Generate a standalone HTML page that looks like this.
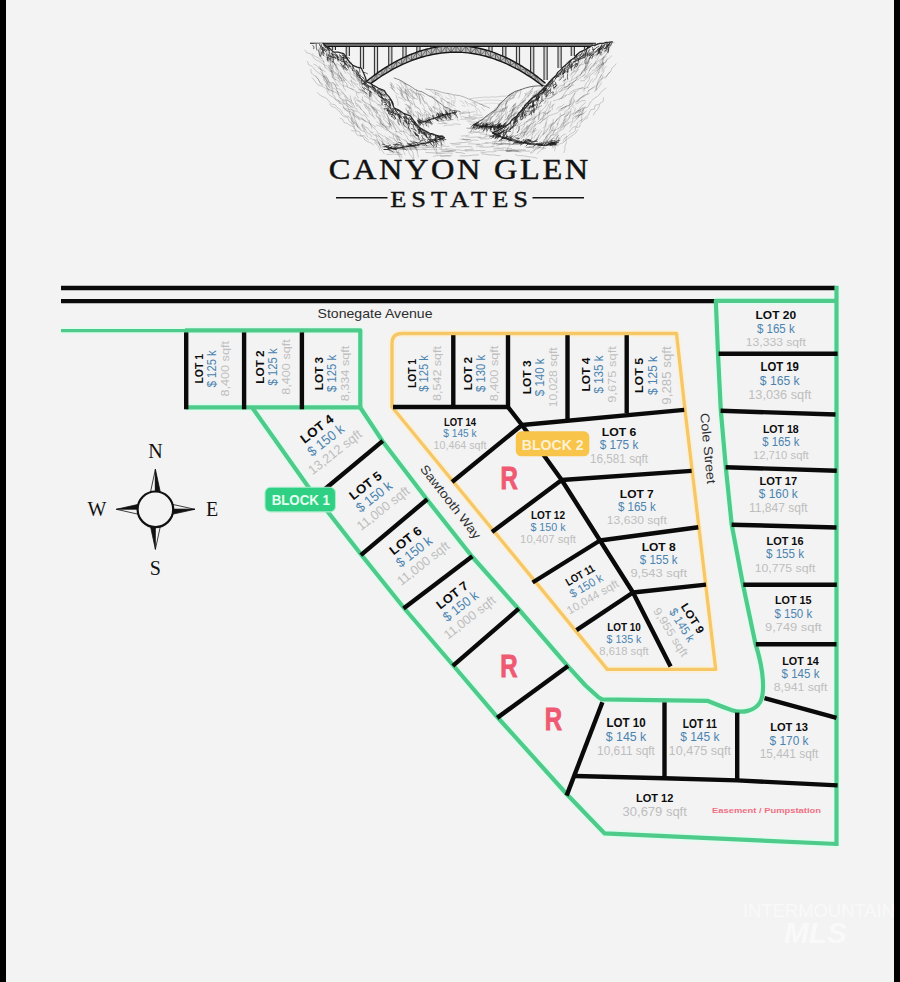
<!DOCTYPE html>
<html lang="en"><head><meta charset="utf-8"><title>Canyon Glen Estates</title>
<style>
html,body{margin:0;padding:0;background:#f3f3f3;}
body{width:900px;height:982px;overflow:hidden;font-family:"Liberation Sans",sans-serif;}
svg{display:block;}
text{font-family:"Liberation Sans",sans-serif;}
.n{font-weight:700;fill:#0c0c0c;text-anchor:middle;}
.p{fill:#4a83b0;text-anchor:middle;}
.s{fill:#bebebe;text-anchor:middle;}
.serif{font-family:"Liberation Serif",serif;fill:#111;}
.road{fill:#2e2e2e;}
</style></head><body>
<svg width="900" height="982" viewBox="0 0 900 982">
<g>
<rect x="-20" y="-20" width="940" height="1022" fill="#f3f3f3"/>
<rect x="-20" y="-20" width="26" height="1022" fill="#000"/>
<rect x="894" y="-20" width="26" height="1022" fill="#000"/>

<g id="logo">
<path d="M469.9,98.8 L473.4,98.2 L476.7,97.9 L479.7,97.5 L482.7,97.3 L485.7,97.0 L489.0,97.3 L491.8,96.8 L495.3,97.1 L498.5,96.6 L502.0,96.2 L505.2,96.2 L508.1,95.6 L511.6,95.6 L515.0,95.0" fill="none" stroke="#1d1d1d" stroke-width="0.5" stroke-opacity="0.35" stroke-linejoin="round" stroke-linecap="round"/>
<path d="M475.8,101.0 L479.6,100.7 L483.0,100.2 L486.2,100.1 L490.1,100.0 L493.4,100.2 L497.0,100.1 L500.7,100.5 L504.0,100.5" fill="none" stroke="#1d1d1d" stroke-width="0.4" stroke-opacity="0.3" stroke-linejoin="round" stroke-linecap="round"/>
<path d="M479.8,104.0 L483.3,104.0 L486.6,103.5 L490.0,103.2 L493.0,103.4 L496.1,103.5 L499.4,103.8 L503.0,104.0" fill="none" stroke="#1d1d1d" stroke-width="0.4" stroke-opacity="0.25" stroke-linejoin="round" stroke-linecap="round"/>
<path d="M474.2,102.4 L474.9,104.6 L475.4,106.8 M454.6,108.4 L456.0,110.9 L455.4,113.7 M450.6,104.0 L453.0,105.2 L455.4,106.3 M441.7,98.2 L441.9,99.8 L441.8,101.6 M478.1,108.7 L479.5,111.1 L481.2,112.9 M435.4,93.3 L436.9,94.7 L438.9,95.7 M449.3,102.2 L449.6,105.4 L450.1,108.6 M475.6,109.1 L476.9,111.3 L476.8,113.9 M429.9,90.6 L431.7,91.4 L433.3,92.6 M435.0,92.0 L436.4,92.9 L438.0,93.5 M441.5,97.6 L442.5,99.0 L444.4,99.8 M432.7,96.7 L435.5,98.9 L437.2,102.4 M459.8,111.4 L460.4,114.6 L461.5,117.7 M439.5,107.8 L440.0,111.4 L440.5,115.0 M440.8,100.5 L441.6,102.0 L442.7,103.1 M454.5,110.5 L455.2,114.4 L455.7,118.2 M437.8,94.2 L440.1,97.2 L441.6,100.7 M467.9,109.9 L469.5,113.0 L469.6,116.5 M447.1,107.5 L446.6,110.0 L447.3,112.5 M436.3,92.6 L440.0,93.9 L442.5,96.9 M447.7,102.4 L449.3,102.8 L450.6,103.5 M481.5,107.8 L483.3,109.1 L484.6,110.8 M442.5,98.6 L445.5,100.9 L448.5,103.1 M459.9,100.7 L462.4,101.7 L464.1,104.0 M437.0,99.9 L437.8,102.7 L438.9,105.4 M443.1,107.1 L444.5,109.6 L446.8,111.6 M464.9,100.7 L466.6,103.5 L468.5,106.1 M442.9,101.9 L443.5,105.4 L443.6,109.1 M430.2,95.2 L432.8,96.9 L436.2,97.5 M471.0,104.9 L474.7,106.0 L477.1,109.1 M451.7,100.3 L451.7,103.9 L452.0,107.5 M447.9,93.2 L449.7,96.1 L452.2,98.3 M465.3,101.3 L468.6,103.6 L472.7,104.3 M434.4,98.8 L435.3,102.3 L434.8,106.0 M462.0,105.5 L463.6,106.0 L465.3,106.3 M448.0,101.7 L447.8,104.0 L448.6,106.0 M432.9,92.7 L434.7,93.7 L436.1,95.3 M444.7,100.0 L446.4,101.7 L448.5,102.8 M472.1,102.4 L475.0,102.9 L476.5,105.5 M453.3,100.5 L453.7,103.0 L453.9,105.5 M447.8,108.1 L449.1,110.9 L450.7,113.6 M434.6,90.7 L435.5,92.7 L435.1,95.1 M481.5,104.3 L482.8,105.9 L484.7,107.0 M454.1,95.3 L455.2,99.1 L454.6,103.2 M445.5,97.4 L447.7,98.5 L450.1,99.1" fill="none" stroke="#1d1d1d" stroke-width="0.45" stroke-opacity="0.33" stroke-linecap="round"/>
<path d="M425.8,89.0 L429.1,89.5 L432.5,89.8 L435.7,90.4 L439.2,91.5 L442.7,92.5 L446.1,93.3 L449.6,93.7 L452.6,94.7 L455.8,95.1 L460.4,95.8 L464.9,97.3 L468.4,98.9 L472.2,100.3 L475.4,101.9 L478.9,103.5 L482.5,104.9 L486.1,106.5 L489.5,108.0" fill="none" stroke="#1d1d1d" stroke-width="0.6" stroke-opacity="0.5" stroke-linejoin="round" stroke-linecap="round"/>
<path d="M390.2,84.3 L392.1,85.8 L393.7,87.6 M439.5,108.6 L440.8,110.2 L442.3,111.6 M432.6,107.0 L435.5,108.5 L438.1,110.6 L440.5,113.0 M419.5,99.4 L421.0,102.5 L423.2,105.1 L424.6,108.2 M409.6,110.5 L412.6,113.6 L415.4,116.8 M443.7,108.8 L445.1,111.6 L446.5,114.5 M426.4,114.4 L427.2,118.1 L426.8,122.1 M405.0,104.5 L409.1,105.8 L411.7,109.2 M429.6,117.7 L431.4,120.1 L433.3,122.5 M400.2,92.7 L401.9,96.1 L404.3,98.8 L407.6,100.5 M419.1,95.4 L419.7,99.8 L420.6,104.0 M391.3,82.7 L393.3,85.4 L394.3,88.4 M418.7,120.6 L419.2,124.1 L420.1,127.5 L421.6,130.7 M412.4,110.9 L413.5,113.8 L413.7,116.9 M401.8,87.1 L401.7,91.3 L402.6,95.2 M407.5,89.7 L409.9,92.6 L411.8,95.7 L413.6,99.0 M418.8,93.7 L422.2,94.2 L424.5,96.4 M406.0,90.0 L408.1,93.0 L410.9,95.3 M419.7,119.5 L422.0,122.6 L423.3,125.9 L424.4,129.4 M431.1,108.4 L431.6,111.6 L432.8,114.7 L433.3,117.9 M399.2,88.9 L400.7,91.7 L401.6,94.9 L403.0,97.7 M412.4,98.6 L413.6,101.5 L414.6,104.4 L415.2,107.4 M429.1,108.2 L430.7,110.8 L433.5,112.4 M422.6,108.7 L425.5,110.6 L428.5,112.4 L430.4,115.5 M413.6,114.8 L416.2,116.1 L417.7,118.8 M407.0,96.3 L408.4,99.9 L410.4,103.3 L411.0,107.3 M399.4,80.8 L402.5,82.7 L405.6,84.4 M420.0,94.1 L421.5,96.3 L423.3,98.3 M418.2,114.3 L418.8,118.1 L420.1,121.6 M417.9,118.3 L421.1,120.1 L424.8,121.0 M416.5,90.0 L416.7,94.6 L418.2,98.8 M427.8,120.5 L428.2,124.0 L428.8,127.5 M454.4,110.9 L455.9,114.0 L456.9,117.2 L457.9,120.5 M407.1,96.7 L408.4,99.6 L410.2,102.2 L412.5,104.5 M408.4,89.0 L411.6,90.9 L414.5,93.2 L416.9,96.2 M428.1,114.2 L428.8,117.9 L430.2,121.5 L431.2,125.1 M409.4,112.6 L409.9,115.0 L411.0,117.3 M405.3,89.1 L407.1,91.6 L408.2,94.5 L409.3,97.5 M403.3,92.0 L406.5,93.6 L409.1,95.8 L411.4,98.4 M433.4,106.7 L435.9,107.8 L438.2,109.1 M413.5,103.6 L415.8,106.5 L419.0,108.5 M433.5,106.6 L434.5,108.7 L434.8,111.1 M400.6,90.3 L402.2,93.8 L403.9,97.2 L405.8,100.5 M404.4,83.6 L405.9,87.3 L405.3,91.5 L407.0,95.1 M422.0,115.5 L422.5,118.2 L423.2,120.9 M408.4,110.3 L408.6,112.5 L410.3,114.3 M437.8,102.4 L439.1,105.4 L440.9,108.1 M408.0,111.8 L408.9,115.6 L410.8,118.9 M398.6,97.2 L402.2,98.7 L404.8,101.6 M418.9,121.0 L422.0,122.8 L424.9,125.0 L428.4,126.3 M417.3,111.4 L419.7,114.3 L423.4,115.7 L426.0,118.4 M410.2,100.2 L411.7,101.7 L412.3,104.1 M436.0,117.4 L439.5,119.4 L442.4,122.2 L446.1,123.7 M417.6,112.3 L420.1,113.7 L420.8,116.6 M408.8,106.5 L410.1,110.7 L411.3,114.9 M390.8,84.7 L392.1,88.2 L394.9,90.9 M407.0,106.9 L408.9,107.5 L410.4,108.9 M406.4,104.1 L408.1,106.4 L409.9,108.5 M400.0,82.5 L402.2,85.4 L404.1,88.6 L406.2,91.6 M416.7,107.0 L419.7,109.5 L421.2,113.2 L424.7,115.4 M399.6,87.0 L401.3,90.6 L404.2,93.6 M413.4,91.7 L416.6,93.6 L420.4,94.6 L422.8,97.7 M415.5,111.5 L417.7,114.5 L418.8,117.9 L420.4,121.1 M409.4,106.7 L411.3,109.2 L411.5,112.1 M407.8,111.0 L407.7,114.5 L409.2,117.5 L410.1,120.8 M444.9,107.7 L445.8,111.5 L446.3,115.3 M424.6,110.0 L425.8,113.1 L428.2,115.4 M390.8,82.6 L391.7,85.9 L392.5,89.2 M445.9,110.6 L449.2,113.6 L452.9,115.9 M405.3,92.0 L406.6,93.6 L407.3,95.7 M418.0,92.4 L419.1,96.3 L420.8,100.0 M421.9,97.5 L423.4,100.6 L425.1,103.6 M428.9,113.3 L431.5,116.4 L435.2,118.1 M405.6,109.3 L407.8,110.7 L408.2,113.4 M445.9,112.9 L447.6,115.9 L448.5,119.3 M390.1,87.2 L393.0,89.6 L395.2,92.7 L398.6,94.5 M426.0,101.7 L427.7,104.7 L429.0,107.8 L430.5,110.8 M424.4,112.4 L425.1,114.9 L427.3,116.5 M404.4,91.2 L405.9,94.4 L407.2,97.8 L408.6,101.1 M396.1,95.2 L397.1,98.5 L398.1,101.8 L398.0,105.3 M397.0,87.1 L397.9,89.1 L399.4,90.6 M429.4,106.2 L431.2,108.1 L432.3,110.5 M435.3,111.6 L436.9,114.0 L438.9,116.1 M444.2,106.7 L446.8,108.7 L448.4,111.6 M422.9,98.4 L424.3,101.8 L427.1,104.4 M441.7,113.1 L445.4,115.1 L447.4,118.7 M432.4,110.2 L434.5,112.4 L436.4,114.9 L437.4,117.8 M405.9,108.1 L407.0,111.5 L410.0,113.4 L412.5,115.7 M410.8,95.7 L413.8,97.9 L417.2,99.2 M409.9,88.0 L411.9,91.4 L412.5,95.3 L414.6,98.6 M405.4,83.8 L406.9,87.0 L408.0,90.3 L409.7,93.4 M441.3,114.3 L442.1,118.1 L444.0,121.6 M411.4,88.8 L413.9,91.8 L416.7,94.6 M417.5,119.5 L418.1,121.6 L418.9,123.7 M396.6,84.2 L399.3,86.2 L401.1,89.3 L403.8,91.4" fill="none" stroke="#1d1d1d" stroke-width="0.5" stroke-opacity="0.38" stroke-linecap="round"/>
<path d="M437.9,112.9 L439.4,115.2 L439.2,117.9 M442.2,113.3 L443.1,114.6 L443.9,116.0 M442.4,114.0 L443.0,116.7 L445.0,118.2 M454.3,112.6 L456.1,114.9 L457.4,117.4 M437.5,116.1 L437.7,118.8 L438.7,121.1 M440.3,114.1 L441.1,115.0 L440.7,116.2 M433.7,115.2 L434.0,117.6 L435.4,119.4 M438.8,116.0 L439.9,118.2 L441.5,120.1 M429.2,119.0 L430.6,121.6 L431.8,124.4 M417.3,120.1 L417.8,121.2 L418.2,122.3 M435.4,117.3 L435.9,119.2 L437.7,120.3 M445.7,114.4 L445.9,116.2 L446.0,118.1 M419.7,120.6 L419.6,122.6 L420.5,124.5 M440.1,114.5 L440.7,117.3 L441.8,120.0 M425.1,120.8 L426.0,122.6 L428.2,122.9 M443.3,114.7 L444.3,116.0 L445.7,116.8 M429.3,117.2 L430.5,117.9 L431.8,118.4 M428.6,117.7 L429.1,118.6 L429.3,119.8 M437.4,117.0 L439.6,118.3 L441.9,119.5 M446.4,112.4 L448.6,113.9 L450.4,115.7 M447.0,113.7 L447.9,116.5 L450.6,118.2 M429.0,119.5 L430.5,121.8 L432.5,123.7 M437.2,113.0 L438.0,114.4 L440.1,114.2 M437.8,114.6 L439.3,115.9 L440.2,118.0 M442.3,114.1 L443.7,114.7 L443.9,115.8 M433.3,116.7 L435.3,118.8 L437.7,120.6 M420.0,120.7 L420.0,122.3 L420.2,123.9 M420.0,120.8 L421.5,123.3 L423.7,125.1 M420.3,120.1 L422.0,121.1 L423.3,122.4 M438.5,114.2 L438.8,115.9 L439.4,117.3 M449.5,113.3 L449.1,115.9 L449.4,118.3 M422.2,118.6 L422.3,119.8 L421.5,121.1 M445.8,110.7 L446.0,112.5 L447.6,113.2 M443.4,114.7 L444.5,116.3 L445.7,117.8 M426.6,120.0 L427.9,120.7 L428.7,122.0 M432.5,115.5 L433.1,117.5 L433.2,119.6 M437.3,113.5 L436.2,115.1 L436.9,116.4 M423.2,121.0 L425.7,122.8 L426.7,125.7 M418.4,120.9 L418.9,123.1 L419.1,125.4 M438.5,115.5 L438.4,117.1 L438.7,118.5 M425.1,119.2 L425.3,120.5 L426.4,121.3 M426.9,120.8 L428.1,122.3 L430.1,123.2 M453.2,112.5 L454.5,113.6 L455.4,115.1 M426.9,118.1 L429.2,119.8 L430.3,122.4 M449.8,113.7 L450.6,116.6 L450.7,119.6 M449.6,110.1 L452.4,111.3 L453.0,114.2 M418.6,119.0 L418.5,120.8 L418.8,122.7 M418.0,121.3 L420.2,122.1 L421.6,123.7 M417.8,120.4 L419.5,122.5 L420.4,125.1 M447.2,113.7 L447.7,114.7 L448.9,115.2 M454.0,110.8 L454.6,112.2 L455.3,113.7 M439.4,112.8 L441.2,113.9 L441.8,115.6 M422.4,120.7 L423.1,121.8 L424.2,122.7 M425.0,121.2 L426.3,122.0 L425.5,123.7 M444.7,114.1 L445.9,116.7 L446.5,119.6 M445.5,113.0 L446.6,113.4 L446.8,114.8 M440.2,115.8 L441.3,116.9 L443.1,117.4 M442.2,114.9 L442.8,116.3 L442.6,118.0 M442.0,113.6 L444.0,115.5 L445.7,117.7 M445.7,111.0 L447.3,112.4 L447.5,114.9 M449.9,109.7 L449.8,112.6 L451.0,115.1 M447.4,113.8 L448.1,116.4 L449.7,118.5 M448.2,114.1 L449.7,115.7 L451.6,116.9 M441.5,113.8 L442.5,114.8 L443.3,116.1 M428.8,119.7 L428.7,121.6 L430.4,123.0 M452.2,112.4 L453.7,113.1 L454.5,114.6 M419.0,119.3 L421.0,120.6 L422.1,122.4 M440.7,111.0 L441.7,112.3 L442.1,113.9 M426.1,118.7 L427.7,120.4 L426.9,122.6 M436.4,117.4 L437.1,118.9 L437.2,120.8" fill="none" stroke="#1d1d1d" stroke-width="0.7" stroke-opacity="0.75" stroke-linecap="round"/>
<path d="M394.1,78.0 L399.6,79.9 L403.0,81.9 L406.8,84.3 L409.7,85.8 L412.2,87.4 L414.8,89.3 L418.4,91.0 L422.0,91.8 L425.1,93.6 L428.8,95.8 L431.9,97.2 L434.5,99.2 L437.0,101.0 L439.1,102.5 L442.1,104.7 L444.3,106.7 L448.5,108.2 L451.9,110.3 L456.2,110.7 L460.0,111.5" fill="none" stroke="#1d1d1d" stroke-width="0.7" stroke-opacity="0.7" stroke-linejoin="round" stroke-linecap="round"/>
<path d="M456.6,111.9 L453.5,112.8 L450.7,113.3 L447.5,114.1 L444.2,114.8 L441.5,115.8 L438.4,116.8 L435.3,118.0 L432.1,118.9 L428.9,119.9 L426.1,121.3 L420.0,122.5" fill="none" stroke="#1d1d1d" stroke-width="1.1" stroke-opacity="0.85" stroke-linejoin="round" stroke-linecap="round"/>
<path d="M512.8,112.4 L510.9,115.4 L511.4,119.0 M506.2,122.0 L503.6,124.0 L500.6,125.3 L498.3,127.8 M525.8,100.0 L522.2,102.4 L519.3,105.7 M545.0,86.3 L543.3,87.6 L541.2,88.2 M520.1,104.6 L517.4,106.2 L514.9,108.0 L512.3,109.8 M498.8,115.8 L497.7,118.5 L495.2,119.8 M493.3,122.1 L490.5,123.6 L487.8,125.2 M492.5,125.4 L490.6,126.3 L488.9,127.3 M505.3,123.1 L505.1,126.7 L503.0,129.9 L503.3,133.6 M515.2,104.2 L513.5,107.9 L512.2,111.8 M513.9,105.3 L513.1,107.7 L512.6,110.4 M510.0,113.5 L508.1,116.0 L508.3,119.2 L506.4,121.7 M511.9,93.0 L509.8,94.1 L508.5,96.4 M489.9,117.7 L487.5,120.7 L484.5,123.2 L483.1,126.9 M541.6,90.5 L538.8,92.5 L536.3,95.0 L532.7,95.6 M525.8,98.8 L523.8,102.0 L520.2,103.4 M501.9,119.3 L499.5,121.9 L498.1,125.2 L495.5,127.6 M479.2,120.8 L476.5,123.3 L473.7,125.8 M474.7,123.8 L473.0,127.9 L470.8,131.7 M516.6,91.8 L514.0,94.7 L512.4,98.3 L509.0,100.7 M481.9,125.9 L478.6,126.8 L476.0,128.8 L473.2,130.6 M531.9,91.7 L528.8,93.6 L525.4,95.2 M476.2,123.7 L474.0,126.6 L471.7,129.6 L470.1,132.9 M526.2,94.2 L524.0,98.1 L520.9,101.3 M544.1,90.7 L543.2,93.0 L542.4,95.3 M516.8,106.8 L513.1,109.0 L509.6,111.6 M505.2,109.2 L503.5,112.3 L500.9,114.9 M526.1,102.4 L523.8,106.1 L521.6,109.9 M507.3,101.7 L505.9,104.9 L505.7,108.6 L503.7,111.5 M521.8,105.3 L518.9,107.9 L515.2,109.2 L512.0,111.3 M492.2,124.6 L490.2,126.0 L488.0,127.3 M532.1,92.9 L529.5,95.0 L527.6,97.9 M517.5,90.4 L515.4,94.5 L513.4,98.5 M510.8,96.2 L509.4,99.1 L507.2,101.3 M506.1,123.6 L505.1,126.2 L504.0,128.7 M502.6,117.4 L500.0,120.4 L497.7,123.5 M504.6,123.9 L502.8,127.4 L501.6,131.2 L500.2,134.9 M483.8,122.5 L482.1,125.2 L480.9,128.2 L479.4,131.0 M498.0,113.9 L497.0,115.7 L496.1,117.6 M498.6,118.1 L496.2,120.2 L494.1,122.8 L491.6,124.7 M515.8,103.5 L514.8,107.4 L513.7,111.3 L510.8,114.3 M492.7,121.0 L491.0,123.7 L491.0,126.9 L490.5,130.0 M488.2,118.9 L485.7,120.8 L482.9,122.1 L480.3,123.6 M545.3,88.1 L542.6,90.3 L539.7,92.2 M536.9,90.6 L536.0,93.4 L534.9,96.1 M533.7,86.7 L532.2,88.8 L532.0,91.6 M495.0,120.8 L493.1,122.3 L491.6,124.4 M514.3,109.1 L512.1,111.8 L509.4,114.2 L507.6,117.2 M502.9,108.1 L502.0,111.2 L501.1,114.2 L501.1,117.6 M523.4,101.1 L522.7,103.6 L520.9,105.6 M510.8,116.5 L508.1,118.6 L504.8,119.6 M488.0,125.7 L487.3,129.1 L486.6,132.6 L486.1,136.0 M540.0,90.2 L538.8,93.1 L538.1,96.1 L536.8,99.0 M490.6,118.0 L490.3,122.2 L488.5,125.9 M502.2,105.5 L500.7,109.1 L499.6,112.9 L497.3,116.1 M508.8,118.7 L507.3,122.1 L505.3,125.2 L503.1,128.2 M534.7,91.9 L533.8,95.1 L531.4,97.4 L530.3,100.5 M514.4,104.4 L511.5,107.9 L509.6,111.8 M495.9,114.0 L492.5,116.8 L489.6,120.1 M507.2,97.7 L507.1,101.7 L505.3,105.2 M532.9,88.1 L530.8,90.6 L529.7,94.0 L527.2,96.2 M499.7,109.3 L496.7,111.9 L492.9,112.9 L490.0,115.8 M503.9,124.8 L503.0,128.2 L500.9,131.1 M520.8,89.6 L519.1,91.2 L517.2,92.6 M503.1,108.5 L501.5,111.2 L498.7,111.9 M515.6,92.5 L512.1,93.9 L508.7,95.4 M537.3,93.2 L537.1,96.5 L537.1,99.9 L535.9,103.1 M503.4,115.1 L501.9,118.2 L499.5,120.9 L498.2,124.1 M540.2,90.5 L538.0,92.7 L535.1,94.0 L532.5,95.8 M508.1,105.6 L505.0,108.8 L501.4,111.4 M491.6,113.8 L488.6,116.0 L485.2,117.1 M537.0,94.7 L534.7,98.0 L532.6,101.3 L530.3,104.6 M512.0,112.1 L509.9,115.2 L509.5,118.9 L507.8,122.1 M513.3,97.2 L511.6,98.3 L509.4,98.7 M495.3,110.7 L493.6,112.6 L491.5,113.8 M504.1,103.5 L500.7,105.3 L497.3,106.8 L494.2,109.2 M480.9,121.1 L477.0,122.4 L474.2,125.7 M543.5,89.6 L541.2,91.4 L538.3,92.3 M509.9,115.1 L507.7,117.6 L505.2,119.9 L503.1,122.6 M515.8,103.2 L514.0,104.7 L512.6,106.7 M489.1,116.1 L485.0,118.1 L481.4,120.8 M541.8,93.4 L539.8,96.9 L537.7,100.4 M515.7,112.4 L513.8,115.3 L510.3,116.8 L508.2,119.5 M488.8,119.8 L486.6,120.9 L484.8,122.8 M496.9,111.3 L494.9,113.6 L493.0,116.0 L490.8,118.1 M539.3,89.3 L537.3,91.1 L534.5,91.9 M501.2,124.5 L500.1,128.7 L498.1,132.5 M493.6,112.0 L490.8,114.9 L488.5,118.4 M513.1,93.2 L511.7,95.5 L509.9,97.5 M521.2,89.6 L520.3,93.9 L518.6,98.0 M515.2,110.9 L513.8,114.0 L513.1,117.3 L512.5,120.7 M504.2,107.9 L501.1,110.3 L497.6,112.2 L494.3,114.5 M529.0,95.2 L525.9,97.4 L524.0,100.8 M504.2,114.5 L501.4,117.2 L498.8,120.4 L495.3,122.4 M506.1,100.7 L505.8,104.6 L505.3,108.5 M499.5,107.0 L497.4,109.8 L494.5,112.0 M501.1,125.4 L499.1,129.2 L496.7,132.8 M512.7,110.0 L511.5,113.2 L511.3,116.5 L509.6,119.5 M545.3,91.0 L543.5,94.0 L541.7,97.0 L540.5,100.3 M530.9,90.4 L528.1,92.6 L524.8,93.7 M509.1,96.8 L507.7,100.6 L505.4,104.0 M492.9,123.8 L489.5,126.1 L486.3,128.5 M536.8,92.8 L535.7,95.1 L534.8,97.5 M495.9,119.7 L493.2,122.7 L489.6,123.9 L486.1,125.6 M492.5,116.6 L489.9,117.2 L487.7,118.6 M507.1,107.6 L504.2,108.3 L502.8,111.2 M537.8,95.5 L536.9,97.7 L535.5,99.8 M499.5,115.5 L499.4,119.6 L497.8,123.5 M506.4,100.0 L503.8,101.8 L501.2,103.6 L498.3,105.0 M492.4,121.5 L492.0,125.0 L491.0,128.3 L491.0,131.9 M518.0,111.8 L514.7,114.1 L511.0,115.9 M491.5,118.3 L489.7,121.3 L487.9,124.3 M500.4,103.8 L498.2,107.2 L495.1,109.7 L492.7,112.9 M508.4,115.4 L507.2,119.3 L506.1,123.2 M507.6,111.9 L506.3,114.6 L505.4,117.6 M523.3,100.2 L521.3,102.6 L518.9,104.8 L517.3,107.5 M507.1,107.0 L506.1,110.8 L505.2,114.6 M518.6,106.7 L517.2,110.4 L515.0,113.5 L511.8,116.0 M517.0,112.9 L515.2,114.2 L514.2,116.2 M484.8,122.2 L482.8,122.9 L480.8,123.7" fill="none" stroke="#1d1d1d" stroke-width="0.5" stroke-opacity="0.4" stroke-linecap="round"/>
<path d="M494.0,126.5 L492.3,127.1 L490.7,127.6 M495.6,127.1 L493.9,128.5 L494.6,130.2 M478.1,124.3 L477.6,125.6 L476.6,126.0 M494.4,125.3 L493.4,127.2 L493.9,129.5 M499.9,124.7 L499.0,125.4 L498.8,126.8 M487.4,124.4 L486.9,126.6 L486.1,128.7 M500.8,125.9 L499.0,125.5 L498.2,127.1 M486.7,124.1 L485.3,125.6 L484.1,127.3 M474.6,124.4 L473.9,126.4 L474.1,128.5 M492.5,125.2 L491.3,126.5 L490.8,128.0 M487.6,127.2 L485.4,128.9 L483.6,130.9 M477.7,126.0 L475.5,127.2 L472.9,127.7 M478.4,122.5 L476.8,124.0 L475.8,126.0 M487.0,124.1 L485.9,126.8 L484.4,129.4 M499.8,126.3 L498.7,127.4 L497.9,128.7 M487.7,126.6 L486.4,128.2 L486.5,130.1 M478.1,123.7 L477.5,126.9 L475.9,129.3 M501.3,125.2 L500.6,126.5 L500.5,127.9 M478.5,122.4 L476.3,123.4 L474.3,125.0 M499.2,122.1 L497.6,123.6 L495.7,124.9 M483.8,124.2 L482.9,127.0 L482.0,129.8 M482.8,124.9 L483.0,126.3 L481.8,127.5 M485.6,123.1 L483.9,125.6 L481.4,127.3 M481.3,122.8 L480.1,124.2 L478.5,125.3 M480.0,126.2 L479.3,127.6 L478.2,128.8 M506.2,122.7 L505.0,123.2 L504.9,124.5 M498.8,124.1 L497.4,125.0 L495.5,125.1 M499.8,125.0 L499.2,127.0 L498.1,128.8 M501.7,125.4 L500.9,127.2 L498.6,127.6 M503.9,125.3 L501.6,126.7 L501.0,129.3 M484.1,125.3 L481.9,127.2 L479.1,128.4 M492.4,126.1 L490.6,128.3 L490.3,131.0 M495.4,124.6 L494.0,125.2 L493.3,126.2 M476.3,124.2 L475.1,125.7 L473.5,126.6 M482.3,121.9 L480.7,124.1 L479.3,126.4 M500.9,123.9 L499.7,124.9 L498.5,125.9 M490.8,123.3 L489.4,124.4 L487.8,125.2 M504.7,123.7 L504.9,125.6 L504.1,127.2 M500.0,123.6 L499.0,125.6 L497.0,127.2 M493.1,123.6 L493.0,125.6 L491.3,126.6 M500.8,123.1 L499.2,125.6 L500.0,128.6 M489.4,126.4 L488.1,128.8 L486.9,131.3 M487.3,123.2 L485.7,125.4 L484.0,127.5 M493.1,126.3 L491.2,127.8 L490.5,129.7 M480.9,126.2 L479.7,127.8 L477.5,128.1 M480.9,125.2 L481.1,126.7 L479.8,127.2 M504.1,125.1 L503.5,126.4 L503.2,127.7 M491.6,127.0 L490.8,128.2 L491.5,129.8 M475.8,124.4 L472.7,125.0 L470.9,127.5 M497.9,124.7 L497.0,127.4 L496.5,130.3 M486.5,123.4 L486.0,125.0 L484.9,125.7 M505.4,123.2 L503.6,124.5 L504.0,126.8 M499.8,124.9 L497.9,127.0 L497.0,129.4 M479.4,123.7 L477.7,125.4 L475.4,126.0 M483.0,125.9 L482.6,127.0 L483.2,128.7 M497.2,126.3 L496.0,128.5 L493.7,130.1 M486.7,123.0 L486.3,125.1 L486.0,127.2 M493.3,124.8 L491.9,126.4 L489.8,126.8 M489.8,126.3 L488.9,127.6 L488.0,128.8 M477.8,122.2 L475.3,123.9 L472.7,125.5 M485.6,124.6 L484.6,125.4 L484.5,126.6 M483.5,123.5 L482.2,125.7 L481.5,128.2 M487.1,124.9 L487.3,126.2 L485.8,126.7 M499.2,124.7 L498.1,126.9 L498.1,129.3 M481.9,126.1 L480.1,126.4 L479.1,127.5 M490.0,124.6 L490.2,126.9 L489.3,128.9 M499.3,125.2 L498.9,127.1 L498.0,128.8 M499.2,124.0 L498.3,125.8 L497.8,127.7 M499.5,124.0 L498.6,125.1 L497.4,125.7 M485.5,125.2 L485.8,127.3 L484.5,128.2 M495.9,126.5 L495.4,128.8 L494.8,131.2 M501.4,125.3 L499.5,127.2 L497.1,128.5 M493.4,125.2 L491.3,126.1 L490.1,128.4 M483.0,123.7 L483.0,125.3 L481.9,126.2 M495.9,125.4 L494.4,127.5 L494.4,129.9 M504.1,125.5 L502.9,126.0 L503.1,127.3 M484.7,126.0 L484.4,128.7 L483.3,131.3 M503.4,124.9 L502.4,125.5 L501.5,126.0 M494.6,126.1 L494.0,127.5 L494.6,129.2 M488.3,124.0 L486.9,124.7 L486.1,126.1" fill="none" stroke="#1d1d1d" stroke-width="0.75" stroke-opacity="0.75" stroke-linecap="round"/>
<path d="M544.8,85.7 L541.6,85.9 L537.8,85.9 L533.9,86.2 L530.1,86.8 L525.8,87.9 L522.3,89.1 L518.0,90.6 L514.7,91.6 L511.9,93.4 L509.0,95.3 L505.2,98.8 L502.9,101.3 L499.7,103.7 L498.1,106.7 L496.1,109.8 L492.2,111.8 L489.1,114.2 L485.9,116.4 L483.2,118.9 L480.0,120.8 L477.3,122.7 L474.0,124.3" fill="none" stroke="#1d1d1d" stroke-width="0.8" stroke-opacity="0.8" stroke-linejoin="round" stroke-linecap="round"/>
<path d="M474.0,124.5 L477.2,125.4 L479.9,126.3 L483.4,126.4 L486.3,126.6 L492.1,127.0 L495.4,126.8 L498.7,126.9 L504.0,126.0" fill="none" stroke="#1d1d1d" stroke-width="1.2" stroke-opacity="0.9" stroke-linejoin="round" stroke-linecap="round"/>
<g stroke="#2a2a2a" fill="none">
<rect x="332.3" y="46.2" width="3.2" height="3.8" fill="#d0d0d0" stroke="none"/>
<path d="M332.3,46.2 V50.0 M335.5,46.2 V50.0" stroke-width="0.95" stroke="#1a1a1a"/>
<rect x="346.2" y="46.2" width="3.2" height="9.8" fill="#d0d0d0" stroke="none"/>
<path d="M346.2,46.2 V56.0 M349.4,46.2 V56.0" stroke-width="0.95" stroke="#1a1a1a"/>
<rect x="360.4" y="46.2" width="3.2" height="22.8" fill="#d0d0d0" stroke="none"/>
<path d="M360.4,46.2 V69.0 M363.6,46.2 V69.0" stroke-width="0.95" stroke="#1a1a1a"/>
<rect x="374.4" y="46.2" width="3.2" height="29.8" fill="#d0d0d0" stroke="none"/>
<path d="M374.4,46.2 V76.0 M377.6,46.2 V76.0" stroke-width="0.95" stroke="#1a1a1a"/>
<rect x="388.7" y="46.2" width="3.2" height="19.5" fill="#d0d0d0" stroke="none"/>
<path d="M388.7,46.2 V65.7 M391.9,46.2 V65.7" stroke-width="0.95" stroke="#1a1a1a"/>
<rect x="402.9" y="46.2" width="3.2" height="12.0" fill="#d0d0d0" stroke="none"/>
<path d="M402.9,46.2 V58.2 M406.1,46.2 V58.2" stroke-width="0.95" stroke="#1a1a1a"/>
<rect x="416.8" y="46.2" width="3.2" height="6.5" fill="#d0d0d0" stroke="none"/>
<path d="M416.8,46.2 V52.7 M420.0,46.2 V52.7" stroke-width="0.95" stroke="#1a1a1a"/>
<rect x="431.0" y="46.2" width="3.2" height="2.7" fill="#d0d0d0" stroke="none"/>
<path d="M431.0,46.2 V48.9 M434.2,46.2 V48.9" stroke-width="0.95" stroke="#1a1a1a"/>
<rect x="473.6" y="46.2" width="3.2" height="2.3" fill="#d0d0d0" stroke="none"/>
<path d="M473.6,46.2 V48.5 M476.8,46.2 V48.5" stroke-width="0.95" stroke="#1a1a1a"/>
<rect x="488.9" y="46.2" width="3.2" height="6.2" fill="#d0d0d0" stroke="none"/>
<path d="M488.9,46.2 V52.4 M492.1,46.2 V52.4" stroke-width="0.95" stroke="#1a1a1a"/>
<rect x="502.7" y="46.2" width="3.2" height="11.6" fill="#d0d0d0" stroke="none"/>
<path d="M502.7,46.2 V57.8 M505.9,46.2 V57.8" stroke-width="0.95" stroke="#1a1a1a"/>
<rect x="516.4" y="46.2" width="3.2" height="18.7" fill="#d0d0d0" stroke="none"/>
<path d="M516.4,46.2 V64.9 M519.6,46.2 V64.9" stroke-width="0.95" stroke="#1a1a1a"/>
<rect x="530.6" y="46.2" width="3.2" height="27.9" fill="#d0d0d0" stroke="none"/>
<path d="M530.6,46.2 V74.1 M533.8,46.2 V74.1" stroke-width="0.95" stroke="#1a1a1a"/>
<rect x="544.0" y="46.2" width="3.2" height="33.8" fill="#d0d0d0" stroke="none"/>
<path d="M544.0,46.2 V80.0 M547.2,46.2 V80.0" stroke-width="0.95" stroke="#1a1a1a"/>
<rect x="558.0" y="46.2" width="3.2" height="21.8" fill="#d0d0d0" stroke="none"/>
<path d="M558.0,46.2 V68.0 M561.2,46.2 V68.0" stroke-width="0.95" stroke="#1a1a1a"/>
<rect x="571.2" y="46.2" width="3.2" height="9.8" fill="#d0d0d0" stroke="none"/>
<path d="M571.2,46.2 V56.0 M574.4,46.2 V56.0" stroke-width="0.95" stroke="#1a1a1a"/>
<rect x="584.4" y="46.2" width="3.2" height="2.8" fill="#d0d0d0" stroke="none"/>
<path d="M584.4,46.2 V49.0 M587.6,46.2 V49.0" stroke-width="0.95" stroke="#1a1a1a"/>
<path d="M366.7,81.2 L369.7,78.8 L372.7,76.5 L375.6,74.3 L378.6,72.2 L381.6,70.2 L384.6,68.2 L387.6,66.3 L390.5,64.5 L393.5,62.8 L396.5,61.2 L399.5,59.6 L402.5,58.2 L405.4,56.8 L408.4,55.5 L411.4,54.2 L414.4,53.1 L417.4,52.0 L420.3,51.0 L423.3,50.1 L426.3,49.3 L429.3,48.6 L432.3,47.9 L435.2,47.4 L438.2,46.9 L441.2,46.4 L444.2,46.1 L447.2,45.9 L450.1,45.7 L453.1,45.6 L456.1,45.6 L459.1,45.7 L462.1,45.8 L465.0,46.1 L468.0,46.4 L471.0,46.8 L474.0,47.3 L477.0,47.9 L479.9,48.5 L482.9,49.2 L485.9,50.0 L488.9,50.9 L491.9,51.9 L494.8,52.9 L497.8,54.1 L500.8,55.3 L503.8,56.6 L506.8,58.0 L509.7,59.4 L512.7,61.0 L515.7,62.6 L518.7,64.3 L521.7,66.1 L524.6,68.0 L527.6,69.9 L530.6,71.9 L533.6,74.0 L536.6,76.2 L539.5,78.5 L542.5,80.9 L545.5,83.3 L541.5,86.2 L542.5,85.7 L539.5,83.5 L536.6,81.3 L533.6,79.2 L530.6,77.2 L527.6,75.3 L524.6,73.4 L521.7,71.6 L518.7,69.9 L515.7,68.3 L512.7,66.8 L509.7,65.3 L506.8,63.9 L503.8,62.6 L500.8,61.3 L497.8,60.2 L494.8,59.1 L491.9,58.1 L488.9,57.2 L485.9,56.3 L482.9,55.6 L479.9,54.9 L477.0,54.3 L474.0,53.8 L471.0,53.3 L468.0,52.9 L465.0,52.6 L462.1,52.4 L459.1,52.3 L456.1,52.2 L453.1,52.2 L450.1,52.3 L447.2,52.5 L444.2,52.7 L441.2,53.1 L438.2,53.5 L435.2,54.0 L432.3,54.5 L429.3,55.2 L426.3,55.9 L423.3,56.7 L420.3,57.5 L417.4,58.5 L414.4,59.5 L411.4,60.6 L408.4,61.8 L405.4,63.1 L402.5,64.4 L399.5,65.9 L396.5,67.4 L393.5,68.9 L390.5,70.6 L387.6,72.3 L384.6,74.1 L381.6,76.0 L378.6,78.0 L375.6,80.1 L372.7,82.2 L369.7,84.4 L370.5,84.4 Z" fill="#bcbcbc" stroke="none"/>
<path d="M366.7,81.2 L369.7,78.8 L372.7,76.5 L375.6,74.3 L378.6,72.2 L381.6,70.2 L384.6,68.2 L387.6,66.3 L390.5,64.5 L393.5,62.8 L396.5,61.2 L399.5,59.6 L402.5,58.2 L405.4,56.8 L408.4,55.5 L411.4,54.2 L414.4,53.1 L417.4,52.0 L420.3,51.0 L423.3,50.1 L426.3,49.3 L429.3,48.6 L432.3,47.9 L435.2,47.4 L438.2,46.9 L441.2,46.4 L444.2,46.1 L447.2,45.9 L450.1,45.7 L453.1,45.6 L456.1,45.6 L459.1,45.7 L462.1,45.8 L465.0,46.1 L468.0,46.4 L471.0,46.8 L474.0,47.3 L477.0,47.9 L479.9,48.5 L482.9,49.2 L485.9,50.0 L488.9,50.9 L491.9,51.9 L494.8,52.9 L497.8,54.1 L500.8,55.3 L503.8,56.6 L506.8,58.0 L509.7,59.4 L512.7,61.0 L515.7,62.6 L518.7,64.3 L521.7,66.1 L524.6,68.0 L527.6,69.9 L530.6,71.9 L533.6,74.0 L536.6,76.2 L539.5,78.5 L542.5,80.9 L545.5,83.3" stroke-width="1.45" stroke="#161616"/>
<path d="M370.5,84.4 L369.7,84.4 L372.7,82.2 L375.6,80.1 L378.6,78.0 L381.6,76.0 L384.6,74.1 L387.6,72.3 L390.5,70.6 L393.5,68.9 L396.5,67.4 L399.5,65.9 L402.5,64.4 L405.4,63.1 L408.4,61.8 L411.4,60.6 L414.4,59.5 L417.4,58.5 L420.3,57.5 L423.3,56.7 L426.3,55.9 L429.3,55.2 L432.3,54.5 L435.2,54.0 L438.2,53.5 L441.2,53.1 L444.2,52.7 L447.2,52.5 L450.1,52.3 L453.1,52.2 L456.1,52.2 L459.1,52.3 L462.1,52.4 L465.0,52.6 L468.0,52.9 L471.0,53.3 L474.0,53.8 L477.0,54.3 L479.9,54.9 L482.9,55.6 L485.9,56.3 L488.9,57.2 L491.9,58.1 L494.8,59.1 L497.8,60.2 L500.8,61.3 L503.8,62.6 L506.8,63.9 L509.7,65.3 L512.7,66.8 L515.7,68.3 L518.7,69.9 L521.7,71.6 L524.6,73.4 L527.6,75.3 L530.6,77.2 L533.6,79.2 L536.6,81.3 L539.5,83.5 L542.5,85.7 L541.5,86.2" stroke-width="1.45" stroke="#161616"/>
<path d="M372.0,82.7 L376.9,73.4 M372.0,77.0 L372.0,82.7 M376.9,73.4 L381.9,75.9 M376.9,73.4 L376.9,79.1 M381.9,75.9 L386.8,66.8 M381.9,70.0 L381.9,75.9 M386.8,66.8 L391.8,69.9 M386.8,66.8 L386.8,72.8 M391.8,69.9 L396.7,61.1 M391.8,63.8 L391.8,69.9 M396.7,61.1 L401.6,64.8 M396.7,61.1 L396.7,67.3 M401.6,64.8 L406.6,56.3 M401.6,58.5 L401.6,64.8 M406.6,56.3 L411.5,60.6 M406.6,56.3 L406.6,62.6 M411.5,60.6 L416.5,52.3 M411.5,54.2 L411.5,60.6 M416.5,52.3 L421.4,57.2 M416.5,52.3 L416.5,58.8 M421.4,57.2 L426.4,49.3 M421.4,50.7 L421.4,57.2 M426.4,49.3 L431.3,54.7 M426.4,49.3 L426.4,55.9 M431.3,54.7 L436.2,47.2 M431.3,48.1 L431.3,54.7 M436.2,47.2 L441.2,53.1 M436.2,47.2 L436.2,53.8 M441.2,53.1 L446.1,45.9 M441.2,46.5 L441.2,53.1 M446.1,45.9 L451.1,52.3 M446.1,45.9 L446.1,52.6 M451.1,52.3 L456.0,45.6 M451.1,45.7 L451.1,52.3 M456.0,45.6 L460.9,52.3 M456.0,45.6 L456.0,52.2 M460.9,52.3 L465.9,46.2 M460.9,45.8 L460.9,52.3 M465.9,46.2 L470.8,53.3 M465.9,46.2 L465.9,52.7 M470.8,53.3 L475.8,47.6 M470.8,46.8 L470.8,53.3 M475.8,47.6 L480.7,55.1 M475.8,47.6 L475.8,54.1 M480.7,55.1 L485.6,50.0 M480.7,48.7 L480.7,55.1 M485.6,50.0 L490.6,57.7 M485.6,50.0 L485.6,56.3 M490.6,57.7 L495.5,53.2 M490.6,51.5 L490.6,57.7 M495.5,53.2 L500.5,61.2 M495.5,53.2 L495.5,59.4 M500.5,61.2 L505.4,57.3 M500.5,55.2 L500.5,61.2 M505.4,57.3 L510.4,65.6 M505.4,57.3 L505.4,63.3 M510.4,65.6 L515.3,62.4 M510.4,59.7 L510.4,65.6 M515.3,62.4 L520.2,70.8 M515.3,62.4 L515.3,68.1 M520.2,70.8 L525.2,68.3 M520.2,65.2 L520.2,70.8 M525.2,68.3 L530.1,76.9 M525.2,68.3 L525.2,73.7 M530.1,76.9 L535.1,75.1 M530.1,71.6 L530.1,76.9 M535.1,75.1 L540.0,83.8 M535.1,75.1 L535.1,80.3" stroke-width="0.65" stroke-opacity="0.9"/>
<rect x="322" y="43.2" width="271" height="3.2" fill="#6a6a6a" stroke="none"/>
<path d="M310,43.2 L596,43.2" stroke-width="1.1" stroke="#111"/>
<path d="M322,46.5 L593,46.5" stroke-width="1.0" stroke="#111"/>
</g>
<path d="M490.2,126.5 L494.0,126.7 L497.7,126.9 L501.5,126.5 M461.4,136.0 L465.2,135.8 L468.9,135.1 M447.3,120.0 L450.3,119.6 L453.3,119.5 M460.0,139.2 L463.4,139.3 L466.9,139.5 L470.3,139.5 M438.1,123.3 L441.1,123.8 L444.1,123.3 L447.1,123.2 M479.2,125.6 L482.2,125.9 L485.2,126.1 L488.3,126.3 L491.3,126.5 M449.0,119.9 L450.9,119.9 L452.8,119.7 M422.8,148.7 L426.4,149.2 L429.9,149.5 L433.5,149.1 L437.1,149.5 M468.4,144.0 L472.0,143.8 L475.7,144.1 L479.4,144.1 M452.2,144.9 L456.4,144.7 L460.5,144.0 M443.9,125.9 L446.9,125.1 L450.0,125.0 L453.1,125.1 M445.8,148.7 L449.2,148.9 L452.7,149.2 L456.1,149.9 L459.5,149.8 L462.9,150.6 L466.3,150.6 M467.2,120.0 L470.6,120.0 L473.9,119.3 M476.4,146.4 L479.6,146.0 L482.9,145.7 M433.3,156.4 L436.3,155.7 L439.4,155.5 L442.4,156.0 L445.5,155.9 L448.6,156.0 L451.6,155.4 M460.7,119.5 L463.6,119.1 L466.4,119.1 M442.8,118.0 L444.9,117.9 L446.9,118.4 M459.6,113.7 L464.1,113.4 L468.5,112.7 M473.4,114.9 L477.6,115.1 L481.8,115.2 M465.7,136.8 L468.7,137.1 L471.8,137.3 L474.8,137.1 L477.8,137.0 L480.9,137.2 M422.0,142.3 L425.6,142.3 L429.1,142.4 L432.7,141.8 L436.2,141.7 L439.8,141.9 M460.5,112.6 L462.3,112.9 L464.0,112.5 M469.8,124.3 L474.1,123.9 L478.4,123.4 M386.6,154.4 L389.7,154.6 L392.8,154.2 L396.0,154.2 L399.1,154.3 L402.2,154.3 M478.4,137.4 L481.8,137.8 L485.2,137.6 M465.2,117.9 L468.5,118.2 L471.7,118.6 L475.0,118.9 M515.5,154.6 L518.5,155.7 L521.7,155.6 L524.8,156.0 L527.9,156.7 L531.0,157.0 L534.1,157.3 L537.1,158.3 M442.7,120.3 L446.1,120.3 L449.4,120.6 M474.2,118.3 L477.3,118.2 L480.2,117.6 L483.2,117.2 M476.5,144.6 L480.4,144.4 L484.2,143.4 L488.1,143.1 M440.8,146.0 L444.9,146.2 L448.9,146.6 M467.2,128.2 L471.6,128.6 L476.1,129.1 M494.2,148.6 L497.4,148.4 L500.4,149.0 L503.6,149.2 M462.7,139.0 L465.5,139.7 L468.3,140.0 M493.8,150.1 L497.3,150.3 L500.8,150.6 L504.4,150.5 L507.9,151.3 L511.4,151.0 M478.8,120.0 L482.8,120.3 L486.7,120.8 M505.4,150.5 L508.8,151.4 L512.1,151.0 L515.5,151.1 L518.9,151.4 M471.1,133.3 L474.3,132.6 L477.5,132.4 L480.7,132.5 L483.9,132.1 M497.8,144.1 L501.8,144.2 L505.8,143.4 L509.8,143.7 M497.1,132.8 L500.2,133.2 L503.4,133.4 L506.6,133.8 L509.8,134.2 M468.0,121.6 L472.2,122.1 L476.4,122.0 M480.1,138.9 L484.0,138.8 L487.8,138.8 L491.7,138.5 M484.9,136.5 L488.3,136.0 L491.7,136.3 L495.0,136.4 L498.4,136.4 L501.8,136.4 M486.7,122.4 L489.0,122.5 L491.2,122.6 M436.0,153.8 L439.3,153.6 L442.5,153.5 L445.8,153.1 L449.1,152.9 L452.4,153.4 M462.8,112.0 L465.0,111.9 L467.2,112.1 M472.8,126.9 L476.4,127.0 L480.1,126.9 L483.7,127.7 M471.7,127.4 L474.8,127.6 L477.8,127.8 M466.6,128.1 L470.2,128.3 L473.7,128.8 L477.3,128.8 M480.1,133.8 L483.9,134.1 L487.6,134.8 L491.3,135.7 M398.8,149.9 L401.9,149.6 L405.0,148.9 L408.1,149.2 M505.7,149.9 L508.7,150.7 L511.8,150.3 L514.8,150.8 L517.8,151.0 M497.1,147.9 L500.7,148.2 L504.3,147.8 L507.9,148.4 L511.5,148.6 M468.6,132.4 L472.4,131.7 L476.1,131.8 L479.8,131.9 M436.0,144.5 L439.9,145.3 L443.9,144.9 M506.3,151.0 L509.9,151.3 L513.6,151.4 L517.2,151.6 L520.9,152.0 M468.5,116.1 L472.5,116.6 L476.4,117.5 M524.9,146.8 L528.2,147.5 L531.5,147.4 M489.5,135.5 L492.8,136.3 L496.3,135.8 L499.7,136.6 L503.1,136.6 M462.4,139.2 L465.5,139.9 L468.6,139.7 L471.7,140.3 L474.8,140.0 L477.9,140.4 M438.9,121.3 L441.3,121.1 L443.8,120.5 M480.9,152.3 L484.0,152.5 L487.0,151.9 L490.0,151.8 L493.1,151.9 L496.1,151.3 M400.0,149.4 L403.4,148.9 L407.0,149.1 L410.4,148.8 L413.9,148.3 L417.3,147.7 M462.8,116.5 L466.0,117.5 L469.2,117.7 L472.5,117.6 M468.3,112.9 L471.5,112.1 L474.9,111.7 M492.7,141.7 L496.0,141.3 L499.5,141.3 L502.8,140.7 M389.3,152.1 L392.9,151.9 L396.4,152.3 L400.0,152.3 M425.8,147.1 L429.0,146.9 L432.1,147.5 L435.2,147.3 L438.4,147.5 L441.5,148.2 M482.5,119.3 L485.0,119.7 L487.3,119.4 M453.2,123.8 L456.7,124.1 L460.2,124.4" fill="none" stroke="#1d1d1d" stroke-width="0.5" stroke-opacity="0.38" stroke-linecap="round"/>
<path d="M411.9,144.3 L415.3,144.7 L418.7,145.2 L422.2,145.1 L425.6,145.3 L429.0,145.6 M450.5,143.5 L453.9,143.5 L457.3,143.1 L460.7,142.6 L464.2,142.6 L467.6,142.0 L471.0,141.9 M506.9,150.7 L510.0,150.6 L513.1,150.0 L516.2,150.2 L519.2,149.7 L522.4,149.9 L525.5,149.9 M456.1,146.9 L459.3,146.9 L462.5,146.8 L465.7,146.6 L468.8,146.5 L472.0,147.1 M496.2,143.5 L499.6,143.9 L502.9,143.9 L506.3,144.0 L509.6,144.0 L512.9,144.6 L516.3,144.4 M409.4,149.1 L412.8,149.3 L416.2,149.2 L419.5,149.5 L422.9,149.2 L426.3,149.9 M529.0,146.9 L532.1,146.3 L535.1,145.9 L538.2,145.8 L541.3,145.3 L544.3,144.9 L547.5,145.1 M465.8,151.1 L469.0,150.7 L472.1,150.7 L475.3,150.8 L478.5,150.5 L481.7,150.7 L484.9,150.5 M441.2,151.1 L444.9,151.0 L448.6,151.4 L452.3,150.9 M439.2,149.0 L442.5,149.7 L445.8,149.5 L449.0,150.6 L452.3,150.7 L455.6,150.6 M526.6,147.4 L529.8,147.2 L532.9,147.8 L536.1,147.9 L539.3,147.7 L542.4,147.8 L545.6,148.4 M440.5,155.9 L443.7,156.0 L446.9,155.6 L450.0,156.0 M455.9,152.4 L460.2,152.6 L464.5,153.5 M425.9,152.6 L428.9,152.6 L432.0,152.8 L435.0,152.9 L438.0,152.8 L441.1,153.0 M485.4,142.8 L489.1,142.9 L492.8,143.0 L496.6,143.2 M502.1,140.6 L506.0,140.1 L510.0,140.1 L514.0,139.7 M492.4,143.7 L495.5,144.1 L498.5,144.1 L501.5,144.1 L504.6,143.8 L507.6,144.1 L510.7,144.3 L513.7,144.1 M513.9,141.5 L517.1,141.4 L520.3,141.1 L523.4,140.7 L526.6,140.6 L529.7,140.2 M460.1,155.8 L463.2,156.0 L466.2,155.8 L469.3,155.7 L472.3,155.1 L475.4,155.1 L478.5,154.9 M481.6,153.8 L484.7,154.0 L487.7,154.6 L490.8,155.0 L493.8,154.8 L496.9,155.5 L499.9,155.6 M442.1,152.0 L445.1,151.7 L448.1,151.3 L451.1,151.1 L454.2,151.5 M417.3,143.2 L421.7,143.0 L426.1,143.6 M465.1,149.7 L469.2,149.7 L473.3,149.0 M508.4,149.9 L511.4,150.1 L514.5,149.8 L517.5,150.7 L520.6,150.9 L523.6,150.8 L526.7,151.2 L529.7,151.0 M408.1,147.5 L411.3,147.3 L414.4,147.2 L417.5,147.1 L420.6,147.2 L423.8,147.1 L426.9,147.2 L430.0,147.3 M479.8,146.9 L483.6,147.1 L487.3,147.1 L491.1,146.8 L494.8,146.8" fill="none" stroke="#1d1d1d" stroke-width="0.55" stroke-opacity="0.42" stroke-linecap="round"/>
<path d="M322.8,43.3 L330.0,48.3 L333.3,51.7 L338.0,52.6 L343.3,53.9 L347.8,59.4 L353.3,65.6 L361.1,68.3 L363.5,73.0 L365.6,77.8 L366.7,81.7 L375.6,86.7 L384.4,90.6 L388.9,96.7 L392.0,102.0 L394.4,107.8 L401.0,112.0 L410.2,115.8 L415.0,122.0 L419.5,128.2 L430.0,133.0 L444.4,137.5 L437.0,140.2 L428.9,142.2 L417.0,144.8 L405.6,146.9 L395.0,148.3 L384.0,149.5 L374.0,143.0 L366.0,133.0 L356.0,124.0 L346.0,112.0 L334.0,100.0 L322.0,88.0 L314.0,72.0 L309.0,56.0 L312.0,44.0 Z" fill="#f1f1f1" stroke="none"/>
<path d="M413.2,140.3 L414.3,144.1 L416.6,147.2 M410.3,145.7 L411.0,149.2 L413.0,152.5 L413.5,156.0 L414.0,159.6 M435.5,136.2 L436.1,139.8 L436.9,143.3 M377.2,132.7 L380.4,134.3 L383.4,136.3 M361.7,124.6 L364.0,126.8 L365.3,129.8 M340.8,74.8 L343.1,76.8 L345.4,78.9 L347.4,81.2 L349.7,83.3 L351.5,85.9 M379.1,139.5 L382.3,141.9 L384.0,145.6 L387.3,147.9 M410.5,130.3 L410.8,133.5 L410.8,136.8 M371.0,132.3 L373.1,134.7 L376.1,135.5 L378.6,137.1 M361.7,117.9 L364.3,120.0 L367.1,121.9 L370.0,123.7 L373.0,125.2 L375.8,127.1 M335.4,76.9 L338.1,78.2 L340.6,80.2 L343.5,80.9 M408.0,129.6 L410.0,132.9 L412.8,135.3 L415.6,137.7 L418.3,140.2 M371.4,89.3 L374.0,91.1 L375.8,93.6 L378.0,95.7 L380.3,97.8 M374.5,142.6 L377.1,144.6 L378.9,147.1 L379.7,150.3 M418.0,127.5 L420.3,129.9 L421.9,132.9 L424.4,135.1 L426.7,137.5 M383.3,119.2 L385.9,121.2 L388.1,123.6 L391.4,124.9 M363.8,114.9 L366.3,117.1 L367.8,119.8 L369.2,122.6 L371.0,125.1 L371.7,128.3 M329.1,65.2 L329.3,68.6 L331.3,71.2 L333.2,73.8 L333.9,77.0 L335.7,79.7 M396.2,110.2 L397.6,113.1 L398.6,116.1 L399.6,119.2 L400.7,122.2 L402.4,125.0 M335.8,65.7 L337.8,69.0 L340.3,71.9 L342.2,75.3 M389.8,123.0 L390.8,126.0 L391.9,128.9 M339.5,75.7 L341.2,79.0 L343.3,82.2 M372.7,100.7 L375.5,102.2 L377.9,104.4 L381.1,105.1 M387.7,122.8 L389.6,125.1 L389.4,128.1 M381.6,114.1 L383.0,116.2 L384.2,118.4 M347.3,64.2 L350.9,65.4 L353.2,68.4 L356.5,70.0 M430.8,137.1 L431.5,140.3 L433.3,143.0 L434.9,145.7 L436.2,148.7 L437.0,151.8 M327.8,54.1 L328.8,57.6 L330.4,61.0 L330.8,64.8 L331.4,68.5 M369.2,120.3 L370.0,123.9 L372.2,126.6 L375.1,128.8 L377.2,131.5 M360.5,89.5 L363.1,91.2 L365.2,93.3 L366.9,96.0 L369.5,97.7 L372.0,99.5 M353.0,112.0 L353.8,115.4 L354.6,118.7 L356.1,121.7 L357.2,125.0 L358.4,128.1 M364.6,104.1 L367.2,107.5 L371.0,109.7 M321.8,54.2 L325.3,56.8 L329.2,58.3 M383.7,114.0 L385.3,117.4 L387.9,120.1 L389.9,123.2 L391.9,126.3 M363.9,74.6 L365.1,77.2 L366.4,79.6 M336.2,57.9 L339.4,59.8 L340.4,63.4 L342.7,66.0 M395.7,110.7 L397.2,114.1 L399.6,117.1 L400.2,121.0 L402.7,123.9 M343.7,99.9 L347.2,100.5 L350.4,101.8 L353.4,103.6 M356.4,78.9 L358.8,80.6 L361.0,82.6 M368.0,87.6 L370.2,89.5 L370.8,92.6 M318.2,67.9 L321.8,69.6 L325.2,71.5 M358.4,89.1 L361.4,90.6 L364.1,92.6 L367.0,94.2 L370.0,95.7 L372.5,98.0 M382.8,125.1 L386.3,126.4 L390.1,126.9 M356.3,103.4 L359.6,106.0 L361.3,109.9 M368.2,106.2 L369.4,109.6 L371.7,112.4 L372.9,115.9 L375.0,118.8 M386.8,138.0 L390.1,139.6 L392.7,142.4 L396.3,143.6 M331.7,57.6 L332.8,60.8 L334.4,63.8 L335.5,66.9 L337.6,69.7 M352.2,117.8 L354.0,120.8 L356.1,123.7 L357.7,126.8 M349.7,67.7 L352.7,69.8 L354.6,73.0 L356.5,76.1 L359.8,78.0 M382.4,124.3 L384.6,127.2 L388.3,128.3 M350.0,66.5 L352.4,69.3 L355.2,71.6 L357.3,74.6 L359.4,77.5 M349.8,88.1 L353.2,89.3 L356.2,91.4 L359.0,93.6 M350.5,67.7 L352.8,70.0 L354.0,73.3 L357.1,74.8 L358.7,77.8 L360.2,80.7 M371.7,94.1 L374.4,95.9 L376.8,98.4 M329.2,49.8 L332.2,51.5 L334.4,54.1 L337.0,56.1 L339.5,58.4 M415.5,144.5 L415.4,147.9 L417.0,150.8 L417.6,154.0 L418.4,157.1 M435.6,138.4 L438.9,139.6 L442.1,141.0 L444.9,143.3 M426.9,140.1 L428.5,143.1 L430.3,145.8 L433.4,147.5 L435.0,150.5 L437.0,153.1 M377.8,134.6 L380.0,136.7 L382.2,138.9 L384.5,141.0 L386.8,143.1 L389.9,144.3 M362.3,123.8 L362.8,127.5 L364.4,130.8 L366.1,134.0 L367.9,137.2 M357.8,76.7 L359.4,79.6 L362.1,81.7 M346.1,86.0 L349.9,88.1 L353.7,90.2 M397.4,145.7 L397.9,149.0 L398.3,152.4 L399.6,155.5 L400.2,158.8 L401.1,162.0 M384.3,136.0 L387.3,138.2 L389.5,141.4 L392.3,143.9 L395.3,146.2 M399.5,131.0 L403.3,131.4 L406.7,132.6 L409.5,135.3 L413.3,135.8 M381.7,141.5 L384.1,144.5 L387.2,146.5 L390.6,147.8 M418.6,129.0 L419.3,131.7 L420.2,134.2 M375.9,116.0 L378.7,118.9 L380.6,122.5 L383.7,125.1 M352.9,74.2 L355.4,77.0 L358.3,79.3 L361.1,81.8 M410.0,143.9 L412.0,146.3 L414.7,147.9 L416.8,150.1 M323.8,76.4 L325.5,79.1 L327.6,81.6 L330.5,83.3 L332.3,86.0 M323.1,77.1 L324.4,80.7 L326.8,83.6 L328.8,86.8 L331.9,89.1 M357.3,105.3 L359.4,107.6 L361.8,109.6 L363.9,111.9 L366.1,114.1 M353.9,83.4 L356.3,86.1 L359.1,88.4 L361.1,91.6 M420.5,137.6 L422.4,140.8 L424.9,143.6 L427.6,146.2 M372.2,107.2 L374.4,109.1 L377.0,110.5 M369.6,105.0 L372.1,107.1 L375.3,108.1 L377.9,110.1 L380.6,112.0 L383.7,113.2 M354.8,97.0 L357.5,100.1 L360.7,102.7 M422.6,133.0 L425.1,135.9 L428.8,137.0 L432.1,138.9 M393.0,121.1 L395.1,123.8 L397.1,126.5 L399.2,129.2 L401.2,131.9 M395.1,131.5 L399.0,132.2 L401.9,134.7 M342.3,100.7 L344.1,103.6 L346.4,105.7 L349.4,107.0 L351.5,109.5 L354.2,111.3 M339.9,97.9 L343.6,100.1 L346.9,103.2 M378.0,135.2 L381.0,138.3 L383.2,142.1 M313.9,64.2 L317.2,65.9 L319.9,68.6 L322.7,71.0 M361.2,125.3 L363.2,127.7 L365.6,129.7 L367.1,132.6 L370.0,134.1 L371.7,136.7 M376.8,121.7 L380.1,124.6 L383.1,127.5 M382.7,97.9 L385.0,99.4 L387.7,100.2 M407.5,127.6 L409.5,130.1 L411.9,132.3 L413.5,135.2 L415.0,138.1 L416.9,140.6 M367.2,90.5 L368.4,93.2 L370.9,94.9 M332.2,77.4 L334.8,79.2 L337.8,80.5 L339.7,83.3 L342.0,85.4 L345.3,86.4 M354.8,122.1 L357.2,124.3 L359.1,126.9 L360.9,129.6 M356.3,75.3 L357.8,78.7 L359.2,82.1 L359.8,85.9 L361.7,89.1 M401.0,114.9 L401.6,118.9 L403.7,122.1 L404.3,126.0 M387.6,116.6 L389.0,119.3 L390.6,121.9 L392.9,124.1 L393.7,127.1 L395.7,129.5 M333.4,57.5 L336.5,58.1 L339.2,59.6 L341.9,61.2 L344.5,62.8 L347.7,63.3 M353.5,111.2 L355.3,114.4 L357.9,116.8 L359.6,120.1 M389.1,136.6 L392.9,138.6 L396.3,141.3 M330.2,64.5 L331.1,68.3 L332.5,72.0 L333.6,75.8 M388.9,120.0 L389.5,123.1 L390.5,126.0 M335.1,85.2 L336.5,87.9 L337.0,90.9 L338.1,93.7 L340.3,96.1 M400.4,144.3 L402.3,147.7 L403.5,151.4 L405.2,154.9 M336.3,66.6 L335.9,69.9 L338.1,72.6 L337.8,75.9 L338.9,78.8 L340.1,81.8 M379.8,122.9 L382.8,124.3 L385.0,126.6 L387.4,128.7 L389.3,131.3 L391.8,133.2 M356.9,100.7 L360.0,100.9 L362.3,102.6 M340.7,66.2 L344.5,67.4 L347.3,70.1 M319.8,51.3 L320.3,54.7 L321.4,57.8 L323.4,60.5 L323.9,63.9 L325.1,67.0 M345.6,98.5 L348.2,100.5 L350.5,102.8 L352.5,105.5 M349.5,112.6 L350.7,116.1 L352.0,119.6 L351.8,123.5 L353.9,126.7 M362.7,124.1 L365.0,126.7 L368.0,128.3 L370.0,131.4 L373.2,132.8 M324.1,75.1 L325.9,77.9 L327.1,81.0 L328.1,84.1 L329.2,87.3 M397.4,135.6 L399.2,139.1 L401.8,142.0 L403.7,145.4 M356.6,69.7 L358.1,73.1 L359.6,76.5 L361.4,79.6 L363.3,82.8 M369.7,138.0 L372.5,139.3 L375.4,140.3 L377.8,142.1 L380.3,143.8 L382.4,146.1 M332.1,87.5 L335.6,89.3 L338.2,92.1 L341.2,94.5 M376.2,111.8 L376.4,115.5 L379.2,118.0 L380.3,121.3 L381.0,124.7 M351.2,76.8 L354.0,78.5 L355.7,81.2 M340.0,72.3 L341.3,75.4 L343.2,78.2 L344.3,81.4 L346.9,83.8 L347.4,87.4 M349.2,62.4 L350.3,65.6 L352.2,68.6 L353.5,71.8 L354.2,75.2 M412.2,135.9 L413.5,138.5 L415.2,140.9 M319.7,66.2 L320.6,69.3 L322.5,72.0 L322.7,75.4 M351.8,116.6 L351.8,119.7 L353.3,122.5 L354.0,125.5 L354.8,128.5 L356.2,131.3 M362.3,96.7 L362.9,100.7 L365.8,103.7 L367.2,107.3 M371.8,86.0 L374.3,89.2 L374.9,93.1 M341.3,66.2 L343.7,69.7 L345.7,73.2 M407.9,121.6 L409.0,123.9 L409.7,126.5 M356.5,109.7 L359.4,113.0 L363.0,115.7 M352.5,69.8 L354.9,71.8 L357.1,74.1 L360.0,75.4 M385.8,138.3 L387.5,140.8 L388.8,143.7 L390.7,146.1 L392.2,148.9 L394.2,151.3 M324.5,67.2 L327.4,68.9 L329.9,71.2 L333.1,72.2 L336.1,73.6 M354.0,97.9 L355.2,100.8 L355.7,104.0 L357.3,106.7 M352.8,66.3 L354.1,69.8 L357.1,71.6 L359.4,74.0 M326.2,59.0 L328.6,60.7 L330.9,62.5 M336.4,64.5 L337.2,67.9 L338.5,71.2 L338.9,74.7 L340.3,77.9 M347.3,72.5 L350.1,74.4 L351.4,77.7 L353.9,79.9 M439.0,138.1 L439.7,141.5 L441.2,144.7 L441.7,148.1 M325.4,84.6 L327.2,88.7 L329.7,92.2 M318.9,47.8 L320.2,50.2 L322.0,52.3 M403.1,139.4 L406.6,141.9 L409.7,144.8 M374.2,139.4 L375.9,142.3 L379.1,143.9 L381.0,146.7 L383.3,149.1 M334.7,73.9 L337.6,75.1 L339.6,77.7 L342.5,78.9 L344.9,80.8 M358.1,92.4 L361.1,92.5 L363.6,93.7 M363.4,111.8 L365.4,114.5 L368.2,116.3 M399.2,120.5 L401.1,123.2 L402.7,126.1 L404.1,129.1 L406.9,131.2 M415.0,130.9 L415.4,134.2 L417.7,136.6 M403.5,130.6 L404.2,133.7 L406.5,135.9 L407.7,138.8 L409.6,141.2 M387.5,115.8 L388.8,118.8 L391.5,120.7 L392.6,123.9 M393.0,134.7 L393.9,138.3 L396.2,141.0 L398.0,144.0 L400.1,146.9 M384.4,108.2 L384.7,111.8 L387.0,114.4 L388.1,117.6 L389.0,120.9 L390.3,124.0 M355.4,75.9 L357.8,78.6 L360.3,81.1 L361.4,84.9 M332.9,83.4 L335.8,84.7 L338.7,85.9 M379.3,115.4 L380.7,118.5 L381.1,122.0 L382.4,125.1 M346.6,63.2 L347.9,67.0 L349.4,70.6 L351.1,74.2 M351.4,79.9 L352.1,83.9 L354.2,87.6 M356.1,91.6 L356.7,95.1 L358.4,98.2 M394.7,113.4 L398.4,114.0 L401.4,116.2 L405.0,117.0 L407.9,119.3 M364.2,80.6 L367.0,81.9 L369.5,83.9 L372.6,84.7 L375.5,86.0 L377.8,88.2 M364.3,95.7 L367.0,97.5 L369.9,99.0 L372.5,100.9 M352.1,111.9 L354.2,114.4 L355.3,117.1 M356.3,116.2 L359.8,117.5 L362.9,119.4 L365.9,121.8 M392.6,146.3 L395.3,148.8 L397.0,152.2 L400.5,154.0 L402.1,157.5 M406.1,145.6 L407.4,148.5 L408.5,151.6 L409.8,154.5 L412.0,157.0 L413.6,159.8 M371.1,107.1 L373.9,109.1 L375.4,112.4 L378.3,114.3 L381.0,116.3 M350.1,95.7 L350.9,98.6 L351.4,101.6 L353.3,104.1 L354.6,106.8 M384.0,94.3 L385.2,97.4 L385.9,100.7 L386.3,104.1 L388.2,107.1 L388.5,110.5 M389.0,105.2 L389.8,108.6 L391.6,111.8 L392.5,115.2 M344.2,108.6 L347.4,110.7 L351.1,111.9 L353.8,114.9 M341.6,77.8 L341.8,81.2 L343.3,84.3 L343.6,87.7 L345.6,90.5 M329.8,70.5 L332.4,72.9 L332.4,76.5 L334.1,79.3 L335.7,82.2 L337.5,85.0 M338.0,100.6 L341.0,101.9 L343.8,103.7 L347.3,103.9 L350.0,105.8 L352.6,107.9 M384.1,100.1 L387.1,102.4 L389.5,105.7 M332.6,65.1 L332.7,68.4 L333.2,71.6 M397.6,135.6 L399.2,137.8 L399.3,140.5 M382.1,142.5 L384.8,144.3 L387.4,146.2 L388.9,149.1 L392.0,150.6 M381.9,89.8 L383.1,92.7 L384.4,95.5 M395.6,147.7 L396.3,150.8 L397.4,153.7 L399.1,156.4 M391.6,132.8 L394.5,134.0 L396.6,136.5 L399.9,137.1 L402.0,139.6 M399.0,114.8 L400.5,118.7 L402.0,122.5 M364.3,81.0 L366.1,83.4 L367.4,86.2 M319.2,47.8 L320.2,51.3 L320.3,55.1 L321.4,58.6 M377.7,105.1 L380.4,105.4 L382.2,107.3 M356.7,75.5 L359.0,77.6 L361.3,79.7 L363.0,82.4 L365.2,84.7 M411.9,124.3 L414.0,127.0 L417.4,128.5 L420.1,130.6 L422.1,133.5 M395.6,133.8 L397.2,136.8 L397.3,140.0 L398.6,143.1 M375.9,134.0 L376.3,137.0 L377.5,139.8 L378.8,142.5 L379.9,145.4 M412.0,140.9 L414.4,143.9 L416.3,147.2 L417.3,150.9 M381.0,108.1 L382.9,111.0 L385.1,113.6 L388.0,115.4 M404.1,121.0 L405.6,124.2 L407.0,127.5 M312.2,53.8 L314.9,56.2 L318.2,57.8 L320.9,60.3 L324.2,61.9 M345.9,99.7 L346.6,102.8 L347.2,105.8 L348.4,108.6 L349.5,111.5 L350.2,114.5 M344.4,96.4 L348.0,98.6 L351.7,100.7 M325.9,75.7 L327.7,79.1 L329.0,82.9 L330.6,86.5 M369.0,98.4 L370.2,101.7 L370.8,105.1 L372.6,108.2 L374.1,111.4 M371.5,92.3 L374.6,93.7 L377.7,94.9 M320.5,71.6 L322.8,74.2 L323.8,77.4 L325.0,80.5 L327.1,83.2 M376.5,125.1 L379.6,126.0 L382.7,127.1 L385.2,129.4 L388.3,130.5 L390.8,132.7 M372.7,108.4 L375.5,110.3 L377.8,112.9 M392.6,134.1 L395.3,135.8 L396.9,139.0 L400.0,140.4 M341.0,91.9 L344.3,94.9 L347.5,98.0 M328.6,65.1 L330.5,67.8 L331.3,71.0 L331.5,74.4 L332.8,77.4 M340.6,73.2 L343.2,76.7 L345.8,80.2 M357.2,80.3 L359.2,82.7 L361.7,84.8 L363.2,87.5 L364.6,90.3 M405.3,139.7 L407.2,142.1 L408.1,145.1 L409.8,147.6 L411.2,150.3 M378.2,116.8 L380.3,119.2 L382.2,121.7 L384.0,124.3 L385.8,127.0 L387.1,130.0 M413.3,134.8 L416.1,137.5 L419.5,139.6 L422.2,142.5 M337.3,91.4 L338.4,94.4 L339.6,97.3 L341.8,99.5 L344.0,101.8 M347.6,104.0 L350.6,106.2 L354.0,107.5 L357.2,109.2 M327.5,57.8 L329.7,60.9 L332.7,63.3 L333.8,67.2 M326.6,56.7 L327.1,60.5 L329.9,63.1 L331.4,66.4 L333.1,69.6 M343.2,107.2 L346.5,108.8 L350.1,109.7 L353.8,110.3 L357.1,111.9 M390.3,119.6 L392.9,122.2 L394.1,125.5 L395.4,128.8 L396.6,132.1 M351.9,114.3 L355.1,116.4 L358.1,118.6 L362.0,119.3 L365.1,121.4 M337.4,55.2 L338.4,58.3 L341.0,60.4 L342.2,63.3 L343.7,66.1 L346.4,68.2 M364.2,104.5 L365.7,107.9 L368.7,110.2 L369.7,113.9 L373.1,116.0 M379.9,106.6 L382.4,108.5 L385.3,109.9 L387.9,111.7 L390.1,114.1 L393.3,115.0 M406.9,143.9 L409.7,144.5 L411.3,147.0 M327.2,88.3 L330.2,89.8 L333.2,91.3 L336.3,92.7 L338.9,95.1 M336.7,63.4 L339.2,65.1 L342.3,65.8 M385.3,96.2 L387.1,98.6 L389.6,100.3 M315.5,75.7 L317.8,78.5 L319.6,81.8 L322.7,84.1 M350.1,80.7 L353.8,82.6 L357.6,84.5 M387.3,106.8 L389.0,111.0 L389.8,115.4 M331.8,83.8 L331.7,87.0 L332.7,89.8 L333.3,92.8 M369.1,104.6 L372.7,106.6 L375.4,109.4 L377.6,112.6 M325.9,46.5 L326.9,49.4 L328.2,52.1 L329.2,54.9 L329.7,58.1 L332.3,60.1 M361.5,99.6 L364.0,101.2 L366.4,103.0 L369.1,104.5 M323.6,74.9 L324.9,77.6 L326.3,80.2 L327.3,83.1 L329.7,85.3 M376.2,139.6 L378.7,141.9 L379.8,145.1 L380.7,148.3 L382.3,151.0 L384.2,153.7 M370.6,85.0 L372.8,87.2 L375.5,88.8 L377.8,90.9 M375.6,98.3 L377.8,100.9 L380.6,102.8 L382.8,105.5 L385.7,107.4 L388.1,109.8" fill="none" stroke="#1d1d1d" stroke-width="0.5" stroke-opacity="0.38" stroke-linecap="round"/>
<path d="M404.6,116.3 L404.4,117.8 L404.9,118.9 M414.0,123.5 L414.8,124.9 L416.6,125.8 M321.3,44.4 L321.3,46.0 L322.2,46.8 M435.5,139.2 L436.2,141.9 L438.0,144.0 M435.4,135.9 L436.9,137.3 L438.9,137.5 M421.9,135.4 L422.2,137.0 L423.5,138.4 M334.8,52.8 L335.6,53.7 L336.4,54.4 M405.1,117.6 L408.1,119.2 L410.5,121.9 M389.4,101.0 L389.7,103.6 L390.1,106.1 M387.0,110.3 L389.8,110.3 L391.5,112.6 M373.3,87.3 L374.9,88.6 L375.2,90.7 M326.9,53.2 L326.4,54.4 L326.6,55.5 M330.0,56.2 L331.0,56.7 L332.3,57.0 M380.0,90.8 L379.2,93.0 L381.1,94.4 M344.4,64.1 L345.1,67.4 L347.5,69.6 M399.9,113.9 L399.8,116.0 L401.1,116.9 M364.2,87.6 L366.4,89.2 L368.9,90.4 M327.9,55.3 L330.7,57.2 L333.1,59.6 M425.7,134.3 L426.0,136.6 L427.9,137.9 M359.2,77.2 L361.1,78.7 L362.0,80.7 M342.0,55.2 L344.5,56.3 L346.1,58.7 M430.0,134.1 L432.1,134.5 L433.9,135.5 M343.9,55.7 L346.8,56.9 L349.6,58.4 M417.6,127.1 L419.4,128.1 L420.4,129.9 M362.9,77.5 L364.6,79.4 L365.0,81.8 M404.3,114.5 L405.2,116.0 L406.4,117.3 M360.2,74.9 L359.9,76.8 L360.8,78.4 M416.5,125.8 L417.8,126.8 L417.7,127.9 M426.3,142.3 L427.2,142.8 L428.3,143.2 M360.9,77.9 L363.0,80.0 L364.4,82.7 M388.6,102.7 L389.4,105.5 L390.6,108.1 M337.0,54.8 L337.7,57.4 L337.8,60.3 M324.3,48.8 L324.9,50.5 L325.9,52.1 M318.5,50.0 L319.2,53.1 L319.9,56.1 M335.5,55.4 L337.1,56.8 L339.3,57.2 M327.4,47.0 L327.6,48.7 L329.0,50.1 M342.8,53.9 L343.5,56.7 L344.0,59.6 M375.3,90.7 L377.3,91.9 L377.9,93.9 M439.2,137.5 L441.7,138.9 L444.0,140.5 M427.3,132.4 L429.0,134.6 L429.6,137.0 M333.6,57.4 L333.7,59.9 L332.8,62.4 M396.3,113.8 L399.5,114.8 L401.3,117.2 M439.6,138.4 L440.5,139.4 L441.1,140.6 M420.1,128.7 L420.0,129.9 L420.0,131.2 M434.3,134.5 L435.7,135.0 L435.8,136.8 M390.9,110.9 L392.4,113.5 L391.8,116.7 M371.9,85.3 L372.8,86.9 L373.7,88.5 M410.3,119.4 L412.0,119.5 L412.3,121.1 M388.6,106.6 L390.7,109.0 L393.0,111.1 M392.4,111.5 L393.7,113.1 L395.3,114.5 M341.1,59.5 L343.5,60.0 L345.3,61.5 M343.5,65.4 L343.6,67.0 L345.0,67.8 M416.1,134.8 L418.5,136.6 L419.2,139.6 M324.8,45.4 L326.6,46.4 L327.8,48.1 M323.0,44.5 L325.0,45.6 L325.6,47.3 M414.6,122.4 L415.1,125.0 L416.4,127.2 M340.7,60.4 L341.7,61.6 L343.7,61.7 M423.5,132.9 L424.6,133.5 L423.9,135.0 M333.7,54.4 L336.4,55.1 L338.0,57.5 M323.3,50.0 L322.5,52.9 L323.5,55.6 M356.4,70.4 L357.5,72.0 L358.4,73.9 M413.8,121.7 L414.0,122.7 L414.6,123.8 M390.4,98.9 L392.4,101.5 L393.4,104.8 M385.2,100.2 L387.0,101.3 L388.0,103.2 M339.5,54.6 L341.9,57.1 L345.0,58.4 M391.5,116.4 L393.4,117.6 L394.4,119.3 M408.3,126.9 L409.4,129.0 L410.4,131.1 M362.1,87.0 L363.4,88.1 L364.4,89.6 M364.4,83.1 L366.4,85.0 L368.3,87.2 M356.8,73.5 L357.0,75.0 L357.2,76.4 M319.3,43.9 L320.3,46.3 L322.4,47.5 M414.6,122.1 L414.2,123.2 L413.8,124.2 M384.1,108.8 L386.6,108.6 L387.9,110.6 M408.8,122.8 L408.9,125.9 L408.0,129.0 M396.1,111.2 L398.5,113.7 L399.8,116.8 M372.3,84.6 L372.8,87.0 L373.3,89.6 M325.2,49.0 L326.4,50.0 L326.6,51.1 M425.0,132.0 L426.3,132.4 L427.6,133.0 M403.9,117.0 L405.0,119.1 L405.8,121.3 M408.5,121.3 L408.1,123.0 L409.5,123.6 M327.5,47.7 L327.8,49.6 L329.6,50.6 M378.5,95.7 L380.8,97.1 L382.9,98.6 M356.4,72.5 L357.8,74.8 L359.6,76.5 M340.6,63.3 L342.5,66.1 L343.9,69.1 M381.1,96.4 L382.9,98.1 L385.0,99.5 M428.0,134.3 L430.0,134.8 L431.4,136.3 M364.9,81.2 L365.3,82.3 L365.6,83.4 M391.2,102.4 L391.9,103.6 L393.1,103.3 M368.0,85.2 L368.8,85.9 L369.9,86.3 M345.5,60.9 L346.4,62.2 L348.0,63.0 M378.9,93.7 L379.1,96.1 L380.9,97.5 M428.3,139.0 L429.2,139.5 L429.5,140.7 M412.5,121.5 L413.6,122.2 L414.9,122.8 M408.9,118.0 L408.6,120.1 L409.2,122.0 M369.6,91.6 L370.8,92.3 L371.8,93.1 M368.4,86.8 L368.2,89.2 L369.6,91.0 M395.6,113.9 L394.5,116.2 L395.6,118.5 M405.7,116.9 L406.4,119.8 L406.5,122.8 M413.2,130.9 L415.7,133.4 L418.2,135.7 M348.8,64.6 L349.4,65.6 L349.9,66.7 M377.7,89.6 L378.2,91.1 L378.3,92.8 M413.0,124.2 L413.5,127.4 L415.4,130.0 M352.7,66.1 L353.2,67.8 L354.3,68.8 M320.5,48.8 L322.7,49.9 L325.0,50.8 M327.9,49.2 L329.3,50.9 L329.5,53.3 M332.0,53.9 L333.5,56.7 L335.8,58.8 M388.5,113.5 L390.4,114.7 L393.0,114.6 M384.9,98.8 L386.3,99.4 L387.2,101.0 M403.2,116.7 L404.8,119.4 L407.1,121.7 M331.4,60.9 L334.1,62.5 L335.6,65.3 M345.0,62.6 L345.8,63.9 L346.7,65.3 M418.4,128.9 L418.4,131.2 L418.2,133.5 M339.7,55.3 L340.7,57.3 L341.0,59.4 M391.9,108.2 L394.9,109.5 L396.9,112.3 M332.4,54.2 L334.0,56.4 L336.0,57.8 M418.0,129.0 L419.7,131.0 L419.4,133.8 M425.8,133.6 L426.4,135.1 L426.6,136.8 M362.0,83.3 L365.0,84.3 L366.9,86.9 M352.6,64.8 L353.2,67.6 L352.4,70.6 M358.8,67.6 L359.6,69.9 L359.9,72.3 M419.9,129.1 L421.0,130.2 L421.6,131.6 M381.1,94.4 L382.3,97.5 L384.5,100.2 M323.8,45.7 L324.7,47.1 L326.1,47.8 M363.3,83.3 L365.2,86.0 L367.7,88.0 M326.9,46.6 L327.9,48.2 L329.5,49.3 M388.0,107.6 L389.3,110.7 L390.6,113.7 M370.3,86.2 L370.8,87.4 L371.8,87.9 M419.0,131.6 L421.2,132.3 L422.2,133.9 M328.3,54.2 L327.9,57.0 L327.5,59.9 M411.9,121.7 L414.1,122.8 L415.1,125.0 M320.0,45.7 L322.0,47.1 L324.1,48.3 M396.1,109.4 L394.7,111.6 L395.6,113.8 M430.6,133.9 L430.1,137.4 L430.8,140.7 M411.1,128.3 L414.1,129.4 L416.6,131.1 M375.9,90.1 L377.6,91.1 L378.7,92.7 M383.6,91.1 L385.3,92.5 L386.0,94.6 M370.7,91.4 L370.8,93.8 L370.9,96.2 M327.6,57.0 L329.1,58.1 L329.9,59.6 M378.3,89.2 L380.7,90.1 L383.0,91.2 M390.6,107.5 L391.7,110.7 L394.2,113.4 M367.7,85.0 L370.1,87.0 L372.5,88.9 M329.9,54.1 L329.6,55.6 L330.9,55.9 M344.8,68.4 L345.8,69.5 L346.7,70.5 M392.1,109.3 L392.9,110.1 L393.2,111.2 M388.2,101.2 L389.8,103.4 L390.8,105.8 M345.9,63.9 L347.6,65.7 L348.4,68.0 M435.8,139.8 L435.8,143.3 L436.5,146.5 M312.8,45.4 L314.0,47.0 L313.7,48.7 M384.2,93.9 L385.5,95.3 L387.0,96.5 M421.5,133.0 L424.5,133.3 L426.8,135.3 M387.0,108.3 L387.9,110.9 L388.9,113.4 M439.0,139.2 L440.9,141.6 L441.8,144.7 M362.0,79.9 L361.4,82.5 L362.6,84.8 M415.2,132.6 L416.2,134.6 L418.3,135.5 M430.2,141.7 L431.7,144.6 L434.0,146.9 M332.5,51.4 L332.1,52.9 L333.2,53.8 M364.2,82.8 L365.9,83.6 L367.4,84.9 M344.0,61.4 L344.7,62.7 L346.2,63.8 M390.0,103.6 L390.4,104.9 L389.9,106.3 M399.9,117.4 L401.4,117.5 L402.3,118.5 M354.5,70.7 L355.5,71.3 L356.4,72.0 M432.5,140.2 L433.6,142.9 L434.1,145.7 M398.8,117.5 L400.1,119.7 L400.4,122.1 M363.1,72.4 L365.4,72.7 L367.5,73.8 M348.1,66.0 L349.7,65.8 L350.8,66.8 M337.2,56.8 L337.6,58.6 L339.0,60.0 M331.0,56.0 L332.0,57.4 L333.7,57.5 M381.0,97.0 L381.8,98.9 L383.0,100.7 M394.8,113.3 L397.0,115.6 L399.7,117.1 M388.5,99.4 L390.7,100.0 L391.9,102.0 M331.5,53.2 L332.2,54.9 L332.2,56.8 M436.9,136.1 L440.4,136.3 L443.3,138.2 M410.3,118.8 L411.0,120.2 L412.1,121.0 M341.6,57.4 L343.9,57.6 L345.9,58.2 M404.0,114.1 L406.1,115.6 L407.3,118.2 M381.3,100.1 L382.3,102.2 L382.0,104.8 M367.4,85.5 L368.5,86.6 L369.0,87.8 M385.4,99.0 L387.6,100.4 L389.5,102.2 M423.5,132.0 L425.4,132.8 L427.2,133.7 M438.4,136.1 L440.5,137.6 L442.4,139.2 M409.5,117.5 L410.3,118.2 L411.7,118.5 M422.4,132.1 L425.0,134.4 L426.8,137.2 M326.7,47.5 L328.6,47.1 L330.1,48.1 M435.7,136.0 L435.5,138.9 L435.7,141.8 M371.6,86.6 L373.8,87.6 L375.3,89.4 M345.4,56.6 L346.6,58.5 L348.4,59.9 M399.5,113.2 L400.7,113.9 L402.1,114.2 M384.5,104.5 L386.9,104.7 L388.4,106.6 M381.9,100.5 L383.6,102.2 L386.0,103.1 M406.0,117.7 L407.4,118.7 L409.2,119.4 M341.3,58.1 L342.6,58.8 L343.8,59.8 M330.5,58.2 L330.3,59.3 L330.6,60.4 M381.7,92.0 L382.1,94.6 L384.2,96.4 M421.9,131.7 L423.9,133.0 L425.0,135.1 M369.9,91.3 L369.5,94.2 L369.8,97.1 M403.2,122.4 L403.8,125.3 L406.2,127.3 M366.1,80.1 L365.6,81.9 L366.3,83.6 M357.0,70.5 L358.6,72.3 L359.0,74.5 M373.0,89.2 L374.1,90.8 L375.6,91.9 M396.8,113.9 L399.1,115.9 L399.7,118.8 M395.1,109.4 L398.2,110.9 L400.9,112.8 M403.8,120.6 L406.2,122.7 L409.2,123.9 M361.8,79.6 L363.9,81.4 L365.1,83.7 M377.7,90.4 L380.1,92.5 L382.3,94.9 M384.5,101.0 L386.3,103.4 L385.8,106.4 M398.0,119.0 L398.0,122.2 L399.4,124.9 M322.2,48.1 L322.5,50.8 L323.4,53.2 M362.1,90.0 L364.6,91.7 L367.0,93.6 M423.5,130.9 L424.3,131.8 L424.8,133.2 M348.0,61.5 L349.6,62.7 L351.5,63.2 M404.3,120.4 L406.4,122.4 L407.7,125.2 M428.7,141.9 L430.3,143.4 L431.7,145.0 M415.6,133.3 L416.1,135.4 L418.4,136.0 M327.5,57.6 L328.0,59.3 L328.0,61.1 M344.0,60.9 L344.6,63.3 L346.0,65.3 M321.4,52.2 L321.4,54.2 L320.5,56.2 M414.1,132.8 L415.1,133.9 L415.8,135.2 M387.1,110.4 L389.7,112.1 L392.8,112.8 M320.4,47.3 L321.3,48.3 L322.7,49.0 M379.5,93.1 L381.7,95.0 L384.8,95.0 M382.4,98.4 L383.5,99.5 L384.5,100.9 M343.4,57.5 L343.5,60.8 L344.9,63.7 M439.7,137.6 L440.5,138.6 L441.1,139.7 M374.3,86.9 L375.2,88.9 L375.0,91.3 M380.0,92.1 L380.7,95.3 L382.4,98.0 M364.0,84.2 L365.3,84.4 L366.3,85.3 M419.7,129.5 L420.4,131.2 L421.7,131.6 M347.1,58.3 L347.1,60.1 L346.3,61.9 M392.8,114.7 L394.5,116.8 L395.9,119.1 M410.3,122.8 L411.3,123.4 L411.7,124.5 M393.3,109.3 L393.4,111.6 L393.7,113.8 M358.6,75.1 L361.4,76.5 L363.8,78.4 M337.6,58.8 L338.2,59.8 L338.3,61.1 M417.6,129.1 L420.7,129.7 L423.6,130.9 M397.5,110.4 L399.2,110.4 L400.2,111.6 M411.3,121.1 L412.9,122.1 L414.9,122.0 M376.3,92.7 L377.8,93.2 L378.7,94.3 M415.5,124.1 L416.2,125.7 L417.5,126.8 M323.1,47.6 L323.1,50.8 L324.4,54.0 M316.2,44.3 L316.3,47.3 L317.0,50.2" fill="none" stroke="#1d1d1d" stroke-width="0.8" stroke-opacity="0.8" stroke-linecap="round"/>
<path d="M400.0,145.0 L401.7,145.8 L403.5,146.4 M382.4,144.2 L383.5,144.5 L384.6,144.7 M427.7,139.3 L430.4,139.7 L433.2,139.5 M388.1,149.7 L390.9,150.7 L393.4,152.2 M434.6,138.4 L436.2,137.6 L437.9,137.0 M399.5,147.9 L402.2,147.8 L404.0,149.7 M400.4,143.6 L402.4,145.3 L404.7,146.4 M383.0,146.7 L385.9,146.9 L388.7,147.5 M434.1,139.3 L435.7,139.8 L437.0,138.7 M431.1,140.2 L434.3,139.5 L437.4,138.2 M406.1,145.8 L408.6,145.8 L411.1,145.8 M413.8,141.7 L417.1,142.6 L419.1,145.5 M400.8,147.2 L403.9,148.3 L406.4,150.1 M410.5,141.1 L413.3,142.9 L416.7,142.7 M409.6,144.1 L411.7,143.6 L413.9,143.9 M422.3,138.9 L423.8,139.0 L425.3,139.4 M419.9,141.0 L421.3,140.6 L422.7,140.2 M390.4,147.5 L393.2,148.8 L396.1,149.4 M407.7,143.4 L409.8,144.1 L411.8,145.1 M394.7,147.7 L396.8,147.1 L398.6,147.8 M417.2,143.1 L419.1,142.6 L420.8,141.6 M400.9,147.5 L402.1,147.8 L402.9,146.3 M388.4,146.3 L389.8,147.9 L391.5,146.7 M384.6,146.8 L387.7,146.0 L390.7,145.1 M423.9,140.5 L425.1,140.9 L425.8,142.2 M440.3,136.4 L441.6,135.7 L443.2,136.1 M385.5,146.2 L387.4,145.8 L388.7,147.6 M398.8,142.6 L400.3,142.4 L401.8,143.7 M414.8,144.1 L416.7,144.9 L418.5,145.9 M393.5,144.3 L395.7,144.8 L397.3,143.1 M427.6,137.7 L428.6,137.8 L429.7,137.8 M439.7,136.3 L442.3,138.9 L445.9,139.6 M388.4,148.5 L390.3,148.0 L392.3,148.7 M394.1,146.4 L396.5,144.5 L399.5,144.6 M408.3,144.8 L409.8,144.7 L411.3,144.7 M436.8,135.9 L438.3,136.7 L439.8,137.6 M438.2,137.4 L441.2,138.8 L443.8,141.0 M420.6,143.2 L424.1,143.3 L426.6,145.6 M389.4,147.3 L392.5,148.5 L395.8,148.9 M427.4,140.9 L428.6,141.6 L430.0,142.0 M391.2,147.8 L393.8,149.0 L396.6,149.3 M395.4,144.6 L397.3,145.0 L398.7,146.0 M421.2,143.6 L422.6,144.9 L424.7,145.2 M385.9,146.6 L387.6,147.7 L389.1,149.5 M391.6,146.9 L394.2,147.3 L396.8,146.7 M429.5,140.1 L431.9,141.6 L434.6,142.6 M434.1,139.6 L436.1,141.1 L438.5,141.7 M410.3,145.6 L413.2,145.9 L415.3,147.4 M409.7,145.5 L412.3,146.6 L414.9,146.3 M410.7,144.3 L412.0,145.6 L413.5,145.4" fill="none" stroke="#1d1d1d" stroke-width="0.8" stroke-opacity="0.8" stroke-linecap="round"/>
<path d="M323.1,43.3 L326.2,46.2 L329.6,48.4 L333.7,52.1 L337.9,52.2 L343.6,53.6 L345.6,56.2 L348.0,59.8 L350.2,62.7 L352.9,65.4 L357.1,67.1 L361.3,68.2 L363.4,72.6 L365.6,77.9 L366.5,81.8 L370.1,83.1 L372.7,85.1 L376.0,86.7 L378.6,88.2 L381.4,89.4 L384.3,90.5 L386.3,93.9 L388.9,96.6 L390.4,98.9 L392.1,101.7 L393.0,105.3 L394.3,108.2 L397.9,109.5 L401.3,111.8 L403.6,113.4 L407.5,114.9 L410.4,115.8 L412.5,118.9 L414.7,122.0 L417.2,124.9 L419.9,127.9 L423.2,129.9 L426.2,131.4 L429.7,133.3 L432.7,133.9 L435.6,135.2 L438.3,135.8 L441.9,136.3 L444.4,137.5" fill="none" stroke="#1d1d1d" stroke-width="1.25" stroke-opacity="0.95" stroke-linejoin="round" stroke-linecap="round"/>
<path d="M444.3,137.8 L440.4,138.9 L437.2,140.0 L432.8,141.0 L428.9,142.2 L426.0,143.2 L423.2,143.3 L420.2,143.9 L417.1,145.1 L412.9,145.4 L409.6,146.2 L405.4,146.9 L402.3,147.4 L398.5,148.1 L395.3,148.6 L391.3,148.5 L387.4,149.4 L384.0,149.5" fill="none" stroke="#1d1d1d" stroke-width="1.2" stroke-opacity="0.9" stroke-linejoin="round" stroke-linecap="round"/>
<path d="M304.9,50.2 L306.7,52.8 L309.8,53.6 L312.3,55.3 L313.8,58.2 L316.2,60.0 L319.0,61.3 L321.6,62.9 L323.9,64.8 L326.9,65.8 L329.0,68.0 L331.0,70.4 L334.0,71.4 L336.3,73.2 L338.7,75.1 L340.4,77.7 M307.5,61.4 L308.7,64.8 L311.6,66.0 L313.8,68.2 L315.7,70.6 L318.1,72.6 L320.6,74.3 L322.8,76.4 L326.3,77.1 L328.1,79.7 L329.7,82.6 L333.5,82.7 L335.2,85.4 L336.7,88.5 L340.1,89.2 L342.1,91.6 L344.0,94.0 L346.2,96.2 M312.2,77.8 L314.3,80.2 L316.1,82.8 L318.2,85.1 L321.6,86.0 L324.5,87.5 L326.8,89.6 L327.8,93.1 L329.9,95.5 L332.9,96.9 L335.1,99.1 L337.4,101.1 L339.7,103.3 L342.9,104.4 L343.7,108.2 L346.0,110.3 L348.6,112.0 M317.5,92.6 L319.6,94.8 L322.2,96.4 L325.1,97.5 L327.5,99.3 L329.3,101.9 L331.3,104.1 L334.9,104.6 L336.8,107.0 L339.1,108.8 L341.4,110.7 L342.9,113.6 L345.0,115.8 L348.5,116.4 L350.5,118.6 L352.2,121.3 L354.7,122.9 M329.7,104.3 L331.8,106.7 L335.3,107.5 L337.4,109.9 L339.9,111.8 L341.6,114.7 L343.9,116.8 L347.6,117.2 L348.8,120.7 L351.1,122.9 L354.6,123.5 L356.7,125.9 L358.8,128.3 L361.2,130.4 L364.3,131.6 M322.1,46.9 L323.9,49.5 L327.5,49.6 L329.1,52.5 L331.7,54.1 L334.8,54.9 L336.5,57.7 L339.2,59.0 L341.9,60.5 L344.7,61.7 L346.4,64.4 M339.9,118.2 L342.7,119.4 L344.1,122.5 L347.2,123.4 L349.7,125.1 L352.6,126.2 L354.4,128.9 L356.6,130.8 L359.7,131.8 L360.5,135.6 L364.3,135.6 L366.0,138.3 L368.4,140.1 M351.6,130.6 L355.2,131.1 L356.7,134.6 L359.8,135.9 L363.2,136.6 L364.8,140.0 L367.6,141.7 L370.7,142.9 L373.5,144.7 M310.8,69.3 L311.4,73.2 L314.1,75.3 L316.8,77.4 L318.8,80.1 L320.0,83.3 L322.9,85.3 M326.8,83.5 L326.9,87.0 L328.5,89.6 L332.0,90.8 L332.6,94.0 L334.5,96.3 L335.6,99.3 L339.0,100.6 L340.1,103.5" fill="none" stroke="#1d1d1d" stroke-width="0.5" stroke-opacity="0.4" stroke-linecap="round"/>
<path d="M612.0,41.5 L600.0,43.5 L592.0,45.5 L586.0,49.0 L580.0,52.0 L574.0,58.0 L568.0,63.0 L562.0,68.0 L556.0,75.0 L551.0,80.0 L546.0,86.0 L540.0,92.0 L530.0,100.2 L524.0,107.0 L519.1,113.4 L512.0,120.0 L505.1,126.7 L498.0,130.5 L492.6,132.9 L498.0,136.0 L505.1,138.3 L512.0,140.5 L519.1,142.2 L530.0,143.8 L542.0,145.0 L556.0,144.5 L566.0,138.0 L575.0,128.0 L584.0,116.0 L592.0,104.0 L599.0,90.0 L604.0,76.0 L608.0,60.0 L613.0,46.0 Z" fill="#f1f1f1" stroke="none"/>
<path d="M566.4,95.6 L563.4,97.7 L560.1,98.9 L556.8,99.9 L553.4,100.8 M609.6,49.2 L607.0,51.2 L603.8,52.6 L601.7,55.2 M580.9,110.3 L579.0,113.5 L578.6,117.4 M520.2,114.5 L517.5,117.8 L516.1,121.5 L515.1,125.4 M549.8,115.1 L547.3,117.2 L544.6,119.0 L542.1,121.0 L539.9,123.5 M550.9,101.3 L550.2,104.8 L549.5,108.4 L548.2,111.8 L547.0,115.2 M529.5,125.9 L527.5,128.3 L526.8,131.7 L524.2,133.7 L523.0,136.6 L521.1,139.1 M567.2,94.5 L563.1,96.3 L559.5,99.2 M565.4,134.1 L562.2,135.5 L560.2,138.3 L557.7,140.5 L554.5,141.9 L551.9,144.0 M582.4,112.4 L579.6,115.3 L577.2,118.5 M585.2,106.8 L583.6,109.6 L582.9,112.6 L581.6,115.5 L581.7,118.8 L581.2,121.8 M558.4,135.4 L556.5,138.2 L557.0,141.5 L555.0,144.3 L555.3,147.6 L554.5,150.7 M588.1,63.6 L586.2,66.8 L583.5,69.4 L581.5,72.5 M545.3,114.9 L543.4,118.2 L540.0,120.2 M566.2,106.1 L563.6,107.6 L560.8,108.8 M583.5,109.8 L581.0,111.7 L577.8,112.0 L575.2,113.5 L573.0,115.8 M554.7,95.3 L551.9,97.3 L548.7,98.7 L546.1,101.0 L543.8,103.8 M568.9,84.5 L566.6,86.6 L563.5,87.2 L561.3,89.5 M577.4,78.6 L575.1,81.0 L572.3,82.6 L569.2,83.9 L567.2,86.7 L564.3,88.3 M502.9,137.2 L501.3,140.6 L501.1,144.3 M589.4,93.6 L586.3,94.7 L583.8,96.7 L580.6,97.6 L578.3,99.9 L575.7,101.9 M554.0,77.7 L552.6,80.7 L552.8,84.1 L551.3,87.1 L550.2,90.2 M535.0,105.1 L531.2,105.8 L528.1,108.2 M596.2,60.2 L594.9,63.5 L593.1,66.6 M546.3,122.6 L545.1,125.6 L543.3,128.1 M563.7,70.9 L561.0,72.2 L558.2,73.4 L555.7,75.3 L553.3,77.3 L550.7,78.8 M607.3,53.1 L605.6,55.7 L603.2,57.6 L601.4,60.0 L599.1,62.0 M536.9,109.4 L533.6,110.5 L531.0,112.6 L528.7,115.2 L525.1,115.8 M592.7,78.6 L590.5,81.3 L589.0,84.5 L587.2,87.4 M594.0,86.5 L591.1,89.0 L587.9,91.1 M581.3,51.9 L577.8,53.5 L575.3,56.4 M558.7,128.3 L555.4,130.1 L551.4,130.6 M591.5,63.4 L589.0,66.2 L587.3,69.6 M575.2,92.8 L573.2,95.5 L571.5,98.4 L569.6,101.2 M539.2,112.5 L539.1,115.8 L538.9,119.1 M565.7,121.5 L563.6,124.0 L561.2,126.4 L558.4,128.3 M519.2,121.9 L517.5,125.6 L515.9,129.3 M510.4,137.6 L507.6,139.3 L505.2,141.5 L502.4,143.1 L499.5,144.6 L496.5,145.9 M590.7,72.7 L587.9,75.8 L584.2,77.9 M559.0,117.7 L556.3,120.3 L554.5,123.6 L551.7,126.1 M563.5,109.8 L560.0,110.8 L557.1,113.0 L553.7,114.1 L550.4,115.4 M555.5,129.6 L553.6,132.6 L551.1,135.4 L549.2,138.5 L547.3,141.7 M571.9,104.9 L570.0,107.3 L568.2,109.7 L565.3,111.2 L564.2,114.3 L561.3,115.7 M532.0,129.0 L529.8,131.9 L527.0,133.9 L523.8,135.4 L521.0,137.5 M541.9,131.0 L539.7,134.2 L537.8,137.7 L535.7,141.0 M557.9,123.3 L557.2,126.4 L555.1,128.9 L553.7,131.8 L553.1,134.9 M600.9,50.5 L597.6,53.4 L593.8,55.7 M578.6,74.7 L576.7,77.2 L575.7,80.4 L573.0,82.3 L571.5,85.1 L569.3,87.4 M568.5,64.6 L567.4,68.0 L564.1,70.0 M604.1,58.7 L601.7,60.5 L600.2,63.4 L597.6,65.1 L596.0,67.8 M565.7,79.6 L564.2,82.2 L564.4,85.4 M583.4,87.5 L579.8,88.4 L576.2,89.4 L572.7,90.7 L569.6,92.8 M520.8,134.0 L518.6,136.2 L517.6,139.3 L515.0,141.2 M591.0,68.0 L589.2,71.1 L587.5,74.2 L584.9,77.0 M588.0,87.4 L585.4,88.3 L582.8,89.1 M517.6,137.5 L517.0,140.4 L515.2,142.5 M550.4,136.0 L548.9,139.0 L546.0,140.6 L543.7,142.8 L541.5,145.1 L539.6,147.7 M575.0,92.8 L573.4,96.5 L571.5,99.9 L569.4,103.3 M571.3,114.0 L570.0,116.9 L567.8,119.0 L565.5,120.9 M536.0,128.0 L533.5,130.1 L532.4,133.3 L529.4,135.0 L527.2,137.4 M556.9,93.5 L553.7,94.7 L551.2,97.0 M540.2,109.9 L539.5,113.2 L538.6,116.5 L538.4,119.9 M584.3,94.6 L581.8,97.5 L578.8,100.0 L575.8,102.5 M527.7,128.7 L525.6,131.3 L524.3,134.4 M603.7,63.9 L600.4,65.1 L597.5,66.9 L595.1,69.5 L592.0,71.0 M573.7,98.5 L574.2,101.7 L572.7,104.4 L573.1,107.6 M606.3,56.8 L603.2,57.9 L600.5,59.5 L597.7,61.0 L596.0,64.1 M527.9,110.0 L524.9,111.9 L523.4,115.1 L520.4,116.9 L518.0,119.2 L516.1,122.0 M565.2,125.6 L563.4,128.9 L560.0,130.6 L557.5,133.1 L555.0,135.7 M599.4,72.1 L597.4,74.5 L596.4,77.6 L594.5,80.0 L592.1,82.1 M529.3,102.6 L527.4,105.0 L525.6,107.7 M553.2,104.4 L552.2,106.9 L552.3,109.8 M559.1,138.0 L557.8,141.6 L555.6,144.7 L553.3,147.8 M603.4,62.9 L600.9,65.5 L598.8,68.4 L597.2,71.7 L595.1,74.5 M558.4,135.2 L556.7,138.3 L555.2,141.4 L553.1,144.3 L552.3,147.8 M538.9,134.8 L537.7,138.3 L535.8,141.6 M603.6,62.6 L603.4,65.7 L602.3,68.7 L602.0,71.8 M537.0,129.9 L534.0,131.5 L530.5,132.2 M577.9,76.4 L575.0,78.1 L572.2,80.1 L569.3,81.8 M560.6,140.0 L556.8,141.8 L552.9,143.6 M540.4,130.1 L537.9,132.5 L535.5,135.0 L533.6,138.0 M568.4,123.6 L565.1,125.9 L561.6,127.8 L558.9,130.8 M536.6,114.8 L535.0,118.1 L533.9,121.5 L532.7,124.9 L530.7,128.0 M587.0,59.2 L586.7,63.2 L585.8,67.0 L584.5,70.7 M511.5,138.4 L510.1,141.7 L509.8,145.2 L507.6,148.2 L507.1,151.7 M569.7,84.4 L567.3,86.5 L564.2,87.3 L562.1,89.8 L559.6,91.8 L556.2,92.2 M544.5,144.0 L541.5,145.4 L539.2,148.1 L536.1,149.5 L532.8,150.5 L530.3,152.8 M550.6,95.1 L547.6,96.3 L545.1,98.4 L542.1,99.6 L539.1,100.8 M563.0,73.4 L560.6,76.8 L558.9,80.4 M535.8,121.4 L533.0,122.6 L530.7,124.6 L528.1,126.1 L525.5,127.6 L523.5,130.0 M560.3,113.3 L560.1,117.4 L558.8,121.0 L557.2,124.5 M524.4,122.0 L524.2,125.7 L522.0,128.8 L521.8,132.5 L520.1,135.7 M599.6,46.9 L598.6,50.7 L597.0,54.3 L595.5,58.0 M573.1,118.4 L572.1,122.8 L570.4,127.0 M532.5,115.8 L530.9,118.6 L528.2,120.1 L526.0,122.2 M589.2,50.1 L589.3,52.7 L588.0,55.0 M527.3,124.9 L526.8,128.1 L525.0,130.8 L524.0,133.9 L524.1,137.2 M585.3,100.6 L581.7,100.7 L579.0,102.5 L576.1,104.0 M574.5,100.4 L572.5,103.2 L569.8,105.0 L566.7,106.1 L564.0,107.7 L561.1,109.1 M534.9,97.2 L532.5,100.2 L529.0,101.8 M572.5,84.1 L570.1,86.4 L568.1,88.9 M586.4,69.8 L582.9,72.5 L579.3,75.1 M558.9,137.3 L558.6,141.8 L556.6,145.9 M537.2,137.9 L534.9,141.1 L533.4,144.7 M604.1,56.7 L602.8,60.9 L601.7,65.0 M544.0,112.2 L543.4,115.8 L542.4,119.5 M585.5,102.4 L583.3,104.6 L580.9,106.6 L579.2,109.2 L577.0,111.4 L575.2,113.9 M537.3,98.2 L535.1,100.0 L532.2,100.6 M569.1,118.6 L566.7,121.8 L563.0,123.2 L560.6,126.4 M547.2,119.2 L546.1,122.2 L546.0,125.6 L544.6,128.6 L543.9,131.8 L543.0,134.9 M571.0,121.7 L568.0,122.9 L565.4,124.8 L562.5,126.2 L560.1,128.3 M510.0,126.6 L507.1,128.8 L503.6,130.3 L501.3,133.1 L498.0,134.8 M534.3,109.6 L530.6,111.5 L526.5,112.1 M528.1,105.3 L527.2,108.9 L526.6,112.5 M573.8,85.0 L570.9,86.2 L568.4,88.1 L565.5,89.3 L562.6,90.4 L559.7,91.6 M575.2,108.1 L574.8,111.6 L572.4,114.3 M553.7,127.9 L552.3,130.9 L550.4,133.5 L547.6,135.3 L546.1,138.2 L543.5,140.2 M547.5,136.9 L546.2,140.0 L545.5,143.2 L543.9,146.1 L542.8,149.2 M513.6,132.5 L511.4,135.4 L511.0,139.0 L509.2,142.0 M515.1,136.1 L512.5,138.2 L509.9,140.2 M587.0,55.1 L586.8,58.2 L586.5,61.2 L585.8,64.2 L585.8,67.3 L584.7,70.2 M535.4,128.6 L534.2,131.7 L532.4,134.6 L531.6,137.9 L530.5,141.0 L529.8,144.3 M549.9,131.8 L547.5,134.3 L546.0,137.4 L544.4,140.5 M535.6,123.2 L533.9,125.8 L532.0,128.2 L529.6,130.3 L527.7,132.7 L526.5,135.6 M578.2,115.2 L575.0,116.2 L572.3,118.2 M534.5,118.1 L531.9,119.8 L529.0,120.8 L526.2,121.8 M601.0,48.5 L598.0,49.9 L595.2,51.6 L591.8,51.9 M566.7,136.1 L565.9,139.3 L566.3,142.9 L564.9,146.0 L564.9,149.4 L563.9,152.7 M578.5,67.8 L575.6,70.3 L572.6,72.7 L570.4,76.0 M558.0,133.8 L555.4,136.0 L552.7,138.2 L550.3,140.6 L547.2,142.3 M558.7,87.5 L556.4,89.7 L555.9,93.1 L553.3,95.2 M571.9,102.1 L569.9,104.8 L566.8,106.2 L564.5,108.7 M584.6,51.9 L583.8,55.4 L582.8,58.7 M601.9,49.2 L601.1,53.0 L598.8,56.3 L597.3,59.8 M553.4,126.3 L551.8,129.4 L549.9,132.4 L547.9,135.2 L545.3,137.6 M532.0,123.3 L529.3,126.0 L526.6,128.8 M581.0,109.8 L577.9,110.7 L575.2,112.7 L572.4,114.1 M603.2,63.6 L602.0,66.6 L599.4,68.6 L597.5,71.1 M537.2,104.3 L534.6,105.7 L532.0,107.0 M578.5,69.6 L576.1,71.5 L572.8,72.1 L570.5,74.1 M601.5,82.7 L599.5,86.0 L597.1,89.0 L594.5,91.7 M557.1,93.8 L554.1,95.0 L551.4,97.1 L548.4,98.3 L545.1,98.9 M499.7,134.3 L498.0,137.5 L496.2,140.7 L494.4,143.9 L491.9,146.7 M599.9,47.7 L596.4,50.6 L592.6,52.9 M557.8,135.7 L555.6,138.8 L553.9,142.2 L552.4,145.7 M557.4,119.4 L555.4,121.8 L552.8,123.7 L551.0,126.2 L550.1,129.4 M540.1,141.6 L539.8,145.0 L538.5,148.1 M526.8,131.6 L523.3,132.4 L520.0,133.4 L516.9,135.2 L513.7,136.4 M579.4,64.2 L576.8,65.6 L574.4,67.4 M538.8,101.7 L537.5,105.0 L536.5,108.4 M534.7,116.1 L531.8,118.6 L528.5,120.1 M543.1,142.8 L540.9,145.2 L537.9,146.6 L535.5,148.7 L533.8,151.7 L530.9,153.3 M523.5,131.9 L521.9,135.6 L518.7,138.4 L517.5,142.3 M545.1,111.8 L541.6,113.1 L538.5,115.0 L535.6,117.3 L532.6,119.5 M569.4,84.4 L568.7,87.8 L567.0,90.6 L564.6,92.8 L563.1,95.7 L561.6,98.6 M583.2,113.7 L580.1,115.2 L577.7,117.3 L575.9,120.1 L573.4,122.1 M550.6,110.7 L548.2,112.5 L545.2,113.4 M567.2,114.2 L564.7,117.0 L563.8,120.5 M571.6,100.0 L570.4,102.8 L569.5,105.6 L569.0,108.7 M589.2,58.6 L587.6,60.8 L586.2,63.1 M529.9,127.8 L526.9,130.5 L524.0,133.3 M528.1,126.2 L525.4,128.5 L523.1,131.3 L520.3,133.4 M570.8,111.8 L567.5,112.1 L565.0,114.3 L562.0,115.4 M518.0,135.2 L515.2,136.0 L513.5,138.4 M549.3,104.1 L547.8,107.4 L546.1,110.6 L544.4,113.8 M585.9,111.2 L583.5,113.8 L580.2,115.0 L577.0,116.4 L574.4,118.6 M579.9,65.2 L578.2,68.1 L576.8,71.2 L574.9,74.0 L572.4,76.4 L571.6,79.8 M583.1,107.4 L580.0,109.7 L577.5,112.5 M551.0,110.6 L548.5,112.8 L545.5,114.2 M607.2,59.1 L605.1,62.2 L602.6,65.0 L600.5,68.1 M542.6,98.5 L540.4,101.9 L539.1,105.6 L538.3,109.4 M580.9,58.3 L578.5,60.5 L575.6,62.0 L572.6,63.4 L570.6,66.1 M532.7,137.7 L529.4,140.7 L527.0,144.7 M568.7,112.6 L566.9,115.8 L564.9,118.8 L563.1,121.9 L561.0,124.9 M606.4,66.3 L603.8,68.7 L603.7,72.2 L601.6,74.8 L600.1,77.7 M506.6,131.0 L503.5,131.8 L501.5,134.1 M571.3,108.8 L570.5,111.8 L569.9,114.8 L569.4,117.8 M548.1,93.8 L546.6,96.7 L545.2,99.7 L545.1,103.1 M566.4,106.0 L562.5,108.2 L558.6,110.3 M601.6,74.6 L600.0,77.5 L598.3,80.4 L597.7,83.6 L596.5,86.7 L596.4,90.1 M595.5,63.3 L593.6,65.9 L590.9,67.9 L589.1,70.7 M557.9,131.5 L554.5,134.5 L550.4,135.8 M567.6,80.8 L565.4,83.2 L562.8,85.1 L559.6,86.0 L557.0,87.9 L554.2,89.5 M541.5,106.0 L538.4,107.3 L535.8,109.4 L533.4,111.8 L530.4,113.2 L527.7,115.1 M570.7,67.6 L568.1,70.0 L567.2,73.5 M547.5,143.3 L545.2,146.2 L542.5,148.7 L539.7,151.0 L537.2,153.8 M525.3,113.0 L522.1,113.5 L519.5,115.0 L516.7,116.3 L513.9,117.7 M582.9,61.3 L581.6,63.8 L579.5,65.7 M523.5,112.1 L521.7,114.3 L520.5,116.8 M527.5,121.5 L525.1,123.3 L522.6,125.1 L519.6,126.1 M589.7,77.2 L588.9,80.2 L586.7,82.5 L585.2,85.2 L584.6,88.2 L583.9,91.2 M589.0,54.2 L587.3,56.6 L584.7,57.9 M604.2,49.0 L602.0,51.6 L599.5,53.8 M547.9,128.7 L545.3,130.8 L543.9,134.0 L541.2,136.0 L539.4,138.8 M541.7,105.4 L538.8,107.0 L536.0,108.5 L533.1,110.0 L530.4,111.9 L527.6,113.6 M601.5,52.3 L598.2,53.8 L595.1,55.5 L592.0,57.2 L588.6,58.4 M575.4,80.5 L572.7,82.8 L569.4,84.1 M552.8,123.6 L550.4,126.4 L547.7,128.8 L546.2,132.3 L542.9,134.2 M548.1,101.4 L546.9,104.5 L545.1,107.1 L542.8,109.4 L540.6,111.8 L539.2,114.8 M553.8,122.7 L550.6,124.4 L547.9,126.7 M512.7,127.5 L509.8,128.9 L506.8,129.8 L504.3,131.9 L501.2,132.7 M564.0,104.1 L561.8,106.3 L558.8,107.2 L556.4,109.1 M514.4,123.8 L513.3,126.7 L513.4,130.0 L512.3,132.9 L510.8,135.8 L510.5,138.9 M552.2,138.6 L551.0,142.0 L550.1,145.6 M584.9,75.0 L582.1,76.4 L579.5,78.3 L577.1,80.4 M606.7,53.3 L604.4,56.1 L602.1,58.9 M513.7,122.4 L512.1,125.5 L509.3,127.8 L507.6,130.8 L505.4,133.5 M569.0,63.5 L567.2,66.3 L564.9,68.7 L563.2,71.4 L560.7,73.7 L559.8,77.0 M544.4,140.1 L541.9,142.8 L538.8,144.5 M583.9,108.1 L580.5,109.6 L577.2,111.1 M534.3,140.6 L533.1,144.5 L533.2,148.6 M535.8,116.8 L533.7,119.6 L531.6,122.4 L529.7,125.4 L528.1,128.6 M535.7,124.8 L534.0,127.5 L533.2,130.7 M545.6,113.3 L543.9,115.9 L541.5,118.0 L539.7,120.7 L537.0,122.5 M561.6,71.5 L559.5,74.1 L557.2,76.4 M596.2,62.1 L592.9,64.8 L590.4,68.1 M548.6,90.0 L545.4,91.2 L542.1,91.7 L539.0,93.1 L536.2,95.1 L533.1,96.4 M574.9,64.8 L574.2,67.9 L573.9,71.1 M586.9,67.0 L584.4,69.7 L582.1,72.7 L579.8,75.6 L577.2,78.3 M568.9,113.1 L567.5,115.5 L564.8,116.5 M586.5,63.3 L585.3,66.6 L584.0,69.8 L581.6,72.4 L580.4,75.6 M583.7,57.3 L580.4,59.4 L576.7,60.7 L573.2,62.3 M565.8,118.6 L564.0,121.7 L563.3,125.2 M585.3,51.9 L583.0,54.2 L581.3,56.8 L580.7,60.0 L578.8,62.6 M601.9,52.4 L598.9,53.1 L596.2,54.6 M521.9,122.4 L518.8,124.9 L515.1,125.9 L512.1,128.4 M602.9,75.7 L602.0,78.9 L600.1,81.5 L597.8,83.7 L596.6,86.8 L595.4,89.8 M589.6,61.6 L588.0,64.4 L586.9,67.4 L586.0,70.4 L585.3,73.6 L582.7,76.0 M553.2,119.2 L553.0,122.5 L551.0,125.1 L550.6,128.2 L549.2,131.1 M535.7,107.9 L534.5,111.4 L534.1,115.1 M548.1,116.7 L545.6,118.7 L542.7,120.1 L540.5,122.6 L537.5,123.7 L534.8,125.4 M582.6,87.9 L579.4,88.8 L577.1,91.1 L573.8,91.6 L571.3,93.6 L568.3,94.7 M554.6,138.1 L550.3,139.9 L547.9,144.0 M564.0,84.7 L561.4,87.6 L558.4,90.3 M561.5,115.6 L558.7,118.0 L555.8,120.3 M554.4,104.1 L552.4,105.7 L550.7,107.7 M583.6,64.1 L580.1,64.9 L577.6,67.4 L574.3,68.5 L571.7,70.7 M580.1,57.8 L576.6,58.8 L572.9,59.6 L569.5,60.8 L566.3,62.7 M602.9,59.4 L602.4,63.0 L600.2,66.2 L599.7,69.8 L598.2,73.2 M598.2,48.7 L595.8,52.4 L592.1,55.2" fill="none" stroke="#1d1d1d" stroke-width="0.5" stroke-opacity="0.38" stroke-linecap="round"/>
<path d="M510.5,131.4 L507.1,131.3 L504.5,132.9 M555.5,82.5 L556.1,85.5 L554.0,87.9 M567.7,74.1 L567.4,76.7 L567.7,79.3 M598.9,46.2 L595.8,47.9 L593.4,50.6 M550.1,85.8 L548.0,86.6 L545.9,87.3 M569.7,63.8 L568.1,65.1 L566.9,66.8 M532.8,102.0 L533.5,104.6 L531.9,107.1 M604.1,46.6 L601.8,48.5 L599.5,50.4 M539.7,96.8 L537.7,99.5 L534.9,101.3 M520.0,115.6 L518.0,116.8 L516.5,118.9 M522.0,112.0 L521.1,114.3 L521.4,116.9 M549.4,90.5 L547.0,91.3 L545.3,93.1 M586.8,50.3 L586.1,52.4 L585.8,54.5 M503.9,137.0 L502.3,138.6 L500.9,140.4 M599.7,48.4 L599.4,50.7 L599.5,53.0 M576.9,57.1 L575.7,59.0 L574.9,61.1 M523.8,112.9 L522.8,114.3 L522.3,116.3 M503.5,130.6 L503.6,133.4 L503.7,136.2 M560.0,74.0 L559.2,75.2 L558.4,76.5 M523.2,108.5 L522.8,109.8 L522.2,111.1 M554.5,81.3 L552.6,81.5 L551.9,83.5 M544.9,88.6 L544.0,91.0 L542.6,93.1 M538.8,95.5 L536.7,97.6 L536.0,100.6 M541.1,94.8 L538.6,96.5 L537.3,99.3 M518.4,116.7 L516.7,116.9 L515.7,118.4 M527.1,106.2 L525.8,107.1 L524.9,108.3 M528.2,103.1 L528.8,104.7 L528.6,105.8 M498.5,132.1 L499.2,134.2 L498.7,136.1 M606.9,45.7 L605.9,47.5 L604.3,48.8 M496.8,132.1 L494.5,134.2 L492.4,136.4 M539.8,97.2 L537.2,98.9 L534.7,100.5 M550.4,85.8 L548.5,88.6 L545.8,90.7 M557.9,75.4 L555.6,76.6 L553.2,77.7 M502.1,131.6 L499.7,133.4 L498.6,136.1 M552.9,91.9 L551.6,92.5 L550.5,93.3 M545.4,93.9 L546.3,95.4 L546.0,96.8 M563.4,71.7 L562.4,72.6 L562.2,74.1 M586.9,49.5 L585.3,50.6 L583.8,51.8 M609.4,42.6 L608.3,45.0 L606.7,47.1 M586.8,50.0 L585.9,52.3 L584.8,54.6 M533.9,104.8 L531.2,106.8 L528.0,108.3 M515.4,121.1 L514.5,122.7 L513.3,123.4 M579.2,54.7 L578.5,56.0 L577.1,57.2 M577.6,58.5 L576.1,60.9 L573.7,62.1 M510.5,122.7 L511.1,126.2 L510.4,129.7 M564.6,72.0 L563.8,73.3 L562.6,74.1 M556.0,84.1 L554.3,84.4 L553.5,85.7 M609.0,44.7 L607.1,47.5 L605.8,50.5 M567.9,67.0 L566.8,67.6 L565.8,68.3 M590.3,57.4 L588.8,60.3 L587.5,63.4 M522.4,116.1 L522.3,118.2 L521.1,120.0 M600.3,47.7 L599.6,49.0 L598.9,50.3 M591.6,53.1 L591.1,54.6 L591.8,56.0 M508.1,128.6 L506.3,129.9 L504.2,130.6 M526.2,115.1 L525.8,116.6 L525.0,118.0 M513.2,125.8 L510.7,128.0 L508.6,130.6 M570.7,60.9 L569.6,63.7 L569.6,66.8 M602.2,47.3 L601.7,48.7 L602.6,50.3 M594.0,54.1 L591.2,55.4 L589.5,58.2 M586.1,51.9 L585.3,54.9 L584.8,57.9 M515.8,119.3 L514.3,119.9 L512.6,120.3 M517.1,119.4 L516.5,121.2 L515.0,122.6 M515.8,117.6 L515.1,120.3 L515.0,123.1 M569.2,66.6 L567.7,68.9 L568.1,71.9 M528.2,104.7 L525.7,106.9 L524.4,110.1 M520.3,116.6 L520.6,118.1 L520.1,119.6 M524.6,114.3 L523.7,117.4 L521.7,119.9 M610.2,44.4 L609.1,46.0 L607.1,45.7 M546.0,88.5 L544.8,89.4 L544.6,90.8 M522.9,107.4 L522.4,109.7 L521.9,111.9 M539.3,96.1 L539.0,97.7 L537.6,99.0 M498.3,130.9 L496.8,133.8 L495.8,136.8 M536.3,96.6 L536.4,98.8 L535.0,100.2 M526.6,113.6 L525.5,114.6 L524.2,115.5 M505.4,132.3 L503.6,133.2 L502.8,134.9 M538.5,96.3 L538.5,98.5 L538.3,100.7 M517.5,120.7 L515.8,121.5 L514.6,122.7 M592.5,47.4 L593.2,49.5 L593.2,51.6 M530.0,105.9 L529.4,107.9 L528.7,109.9 M535.9,96.1 L533.6,97.3 L531.8,99.5 M552.8,82.3 L552.9,84.9 L553.5,87.5 M524.2,107.4 L524.3,110.3 L522.8,112.8 M506.8,134.8 L506.6,136.8 L505.6,138.3 M548.4,92.9 L547.7,95.0 L546.1,96.7 M513.1,126.4 L512.8,127.7 L511.9,128.3 M519.1,126.6 L519.0,130.0 L517.2,132.7 M585.0,55.1 L585.4,56.4 L584.3,57.6 M567.3,71.6 L565.4,72.1 L563.9,73.2 M597.5,43.7 L595.9,44.8 L594.0,45.1 M501.0,130.2 L499.2,131.8 L498.1,134.0 M564.2,69.9 L564.4,72.0 L563.3,73.4 M576.5,63.9 L575.6,66.0 L574.1,67.9 M595.1,48.8 L594.0,49.6 L592.5,49.6 M565.8,79.1 L564.5,79.9 L563.6,81.0 M558.4,74.8 L556.2,77.3 L554.6,80.3 M559.0,76.4 L557.7,76.8 L556.4,77.3 M544.9,88.4 L543.8,88.5 L543.3,89.8 M565.5,65.4 L564.9,68.6 L562.4,71.1 M591.1,51.9 L590.7,53.5 L590.5,55.1 M533.0,109.6 L531.7,112.2 L531.4,115.0 M597.2,50.1 L596.6,51.7 L594.9,52.3 M533.4,100.7 L532.8,103.2 L532.6,105.7 M512.4,127.1 L511.0,128.8 L509.3,130.3 M536.7,102.2 L537.3,105.0 L536.5,107.6 M601.5,45.3 L600.2,48.1 L597.6,49.7 M607.5,42.7 L607.5,43.8 L607.5,44.9 M607.2,46.8 L606.3,47.5 L605.2,48.0 M515.7,124.8 L514.9,125.9 L513.4,125.7 M529.5,110.8 L528.4,111.2 L527.1,111.4 M535.9,104.7 L534.2,106.0 L532.5,107.2 M502.1,128.4 L502.2,130.2 L500.5,130.0 M568.9,68.3 L567.5,70.2 L567.6,72.7 M549.8,83.9 L547.8,84.2 L546.3,85.5 M530.1,102.5 L527.7,104.9 L524.6,105.5 M572.0,64.1 L571.7,67.2 L571.4,70.3 M565.1,71.1 L564.6,72.1 L563.5,73.0 M583.5,57.9 L580.3,59.0 L577.3,60.8 M530.2,100.5 L529.5,101.5 L528.2,102.1 M575.4,56.9 L574.7,58.1 L574.1,59.5 M599.6,49.0 L598.9,50.9 L598.5,52.9 M514.9,118.0 L513.9,121.0 L514.0,124.4 M576.6,55.0 L576.7,56.9 L575.4,58.2 M607.1,47.8 L606.1,48.7 L604.6,48.6 M562.2,76.9 L561.1,78.6 L559.8,80.1 M538.3,97.4 L536.7,98.5 L537.3,100.1 M530.7,105.6 L530.2,107.1 L529.5,108.5 M562.9,69.5 L562.7,70.7 L561.5,71.5 M532.1,106.4 L532.0,107.5 L531.4,108.3 M596.0,44.8 L595.3,45.7 L594.4,46.1 M542.0,96.4 L541.8,98.3 L542.0,100.3 M578.5,53.2 L577.0,54.5 L575.5,55.6 M604.1,44.8 L602.1,46.3 L601.7,48.7 M607.9,47.7 L608.5,50.1 L608.2,52.4 M516.8,117.3 L515.7,118.1 L514.7,118.9 M578.9,62.9 L577.4,63.1 L577.2,64.3 M530.9,99.8 L531.3,101.9 L530.3,103.5 M549.4,89.9 L548.6,91.5 L547.1,92.7 M547.1,90.8 L546.6,93.1 L546.2,95.4 M514.1,123.8 L513.6,125.4 L512.9,127.0 M586.3,58.1 L584.9,60.7 L585.2,63.7 M571.3,60.3 L570.6,61.8 L569.4,62.3 M523.8,109.6 L521.1,111.4 L518.2,113.2 M546.2,90.0 L545.1,90.8 L543.7,90.8 M551.4,83.9 L548.7,85.4 L545.8,86.4 M607.1,49.4 L606.1,50.7 L604.3,51.2 M592.9,52.2 L593.0,55.5 L591.8,58.7 M577.3,63.9 L577.7,65.6 L576.1,66.9 M518.2,113.9 L517.8,116.6 L516.4,118.7 M510.7,122.8 L508.6,124.9 L505.7,125.7 M527.2,105.9 L526.9,107.7 L525.3,108.3 M606.0,43.7 L603.4,45.7 L600.5,47.3 M552.4,80.7 L551.3,82.3 L549.0,82.2 M543.5,100.5 L541.1,101.7 L539.8,103.8 M584.6,54.0 L582.4,55.9 L580.0,57.5 M496.0,134.1 L492.9,135.7 L489.7,136.9 M525.5,110.8 L525.1,113.0 L525.0,115.1 M553.3,80.2 L551.7,81.2 L550.3,82.3 M531.4,110.1 L530.7,112.5 L529.6,114.7 M533.8,100.7 L530.9,102.7 L527.5,103.6 M522.7,111.9 L522.1,113.8 L522.5,116.0 M534.2,104.3 L533.6,106.4 L531.5,106.3 M571.2,62.1 L571.3,65.2 L570.3,68.2 M553.4,92.3 L553.0,93.4 L552.9,94.6 M575.6,63.0 L576.4,64.4 L575.4,65.2 M546.2,88.4 L544.9,91.6 L544.9,95.0 M508.7,126.7 L506.9,129.7 L506.0,132.9 M539.0,94.9 L536.9,96.2 L534.5,97.0 M548.2,84.8 L546.5,86.8 L545.6,89.2 M550.9,83.7 L549.0,83.9 L548.4,85.2 M541.8,92.8 L539.5,94.0 L537.3,95.3 M589.1,53.3 L589.1,54.4 L589.5,55.6 M534.3,99.7 L533.0,102.9 L533.4,106.6 M571.1,64.4 L570.1,65.9 L570.1,67.8 M562.6,67.7 L563.0,69.2 L562.2,69.9 M545.0,88.7 L542.9,89.9 L541.2,91.6 M545.6,88.2 L545.6,90.3 L544.3,91.4 M598.2,51.1 L598.3,53.2 L597.3,55.1 M583.2,53.6 L583.2,55.9 L581.9,57.8 M504.0,130.9 L501.5,131.7 L500.8,134.2 M560.9,72.7 L559.1,73.6 L557.6,74.8 M564.5,68.2 L564.7,69.4 L564.2,70.5 M543.4,92.1 L541.8,93.0 L540.7,94.7 M609.8,43.3 L608.6,44.6 L607.3,45.8 M552.5,79.5 L550.4,80.5 L548.7,82.2 M580.8,57.2 L578.5,59.0 L578.4,61.6 M562.3,69.5 L560.7,71.9 L558.7,74.0 M561.8,71.3 L560.8,72.8 L560.5,74.7 M576.4,63.6 L573.9,65.3 L571.4,67.1 M550.7,88.8 L550.6,91.0 L549.8,93.0 M506.6,127.0 L504.9,128.0 L503.6,129.8 M557.0,85.1 L556.1,86.2 L555.1,87.3 M577.2,58.8 L576.4,60.5 L574.4,61.6 M524.5,108.5 L523.5,111.7 L522.2,114.8 M500.2,135.7 L497.5,136.4 L495.2,137.6 M566.4,69.3 L565.6,70.9 L563.8,71.3 M611.8,42.9 L610.5,46.1 L608.0,48.3 M581.8,53.6 L579.9,56.3 L578.5,59.2 M606.3,43.0 L606.5,44.7 L606.3,46.2 M506.3,132.4 L504.7,135.1 L503.3,137.9 M589.5,49.6 L587.7,52.8 L587.5,56.3 M532.6,100.7 L530.8,101.5 L530.2,102.9 M543.8,89.7 L542.6,92.5 L541.9,95.4 M577.0,55.1 L576.5,56.5 L575.3,57.0 M587.8,53.0 L585.3,55.0 L583.4,57.5 M528.8,103.7 L527.3,105.5 L525.8,107.4 M555.8,86.1 L555.0,87.6 L553.6,88.7 M515.6,119.2 L515.7,120.5 L514.5,121.4 M538.5,95.1 L537.8,96.3 L536.9,97.5 M534.0,108.2 L534.0,110.3 L533.7,112.4 M604.8,44.7 L603.9,46.4 L603.4,48.3 M520.9,111.3 L520.0,113.3 L519.2,115.3 M583.6,55.2 L582.4,55.9 L581.5,57.0 M544.0,92.2 L541.2,93.1 L538.9,95.0 M536.9,96.6 L536.4,97.9 L535.5,98.8 M583.2,50.1 L581.8,53.0 L579.9,55.5 M598.9,47.8 L597.8,49.2 L598.7,51.1 M517.7,121.2 L517.1,123.0 L515.7,124.4 M503.2,135.9 L502.7,137.1 L502.5,138.4 M569.0,62.6 L569.4,64.4 L567.8,66.0 M601.0,52.6 L600.9,53.8 L600.9,55.0 M573.4,61.3 L572.5,64.5 L571.3,67.7 M552.1,82.6 L550.9,84.5 L550.8,86.8 M558.4,75.3 L556.6,76.8 L555.5,78.6 M610.3,42.6 L609.0,44.6 L607.4,46.3 M580.3,58.6 L579.1,58.9 L577.8,59.0 M531.4,102.0 L529.7,103.4 L528.0,104.9 M495.2,133.4 L494.0,135.2 L493.4,137.5 M563.4,72.8 L563.2,75.0 L563.4,77.3 M546.7,88.4 L544.0,90.7 L543.2,93.8 M601.9,44.4 L600.7,47.0 L600.6,49.8 M516.6,119.0 L515.3,121.1 L513.6,122.7 M534.1,101.9 L532.9,103.4 L533.0,105.1 M599.1,49.2 L600.1,51.5 L598.6,53.6 M589.7,46.7 L587.1,48.6 L584.3,50.1 M608.9,47.1 L608.4,49.8 L607.6,52.4 M538.0,98.4 L537.6,100.0 L537.7,101.7 M504.3,130.9 L501.3,131.9 L498.6,133.6 M589.4,52.8 L590.0,54.0 L589.7,55.2 M588.7,55.1 L587.2,54.7 L586.6,55.5 M533.8,107.2 L534.1,109.8 L533.7,112.4" fill="none" stroke="#1d1d1d" stroke-width="0.8" stroke-opacity="0.8" stroke-linecap="round"/>
<path d="M526.6,141.8 L525.4,140.6 L524.4,142.0 M502.6,132.3 L499.7,133.4 L496.9,134.8 M512.1,139.1 L509.8,138.1 L507.5,138.9 M519.7,140.8 L517.7,141.8 L515.9,142.9 M547.8,140.8 L545.9,142.4 L543.4,142.1 M529.4,140.1 L526.4,140.8 L523.3,139.7 M543.7,143.4 L542.5,143.1 L541.3,142.8 M498.0,135.4 L496.6,137.2 L494.9,138.6 M554.0,143.5 L552.4,143.2 L550.9,143.0 M552.1,142.7 L550.4,143.0 L548.9,144.2 M512.5,138.7 L511.0,139.1 L509.7,139.7 M500.8,134.8 L498.8,136.0 L496.1,136.4 M548.5,143.0 L547.2,142.5 L545.9,143.1 M499.7,136.3 L497.6,137.5 L495.1,138.1 M556.7,143.2 L553.3,143.5 L550.4,145.6 M553.9,143.7 L552.7,144.2 L551.7,145.1 M508.0,138.2 L504.9,138.4 L501.8,138.6 M549.6,143.9 L547.8,145.1 L545.8,145.7 M552.2,140.7 L550.3,141.4 L548.5,142.4 M554.9,143.1 L551.8,142.8 L549.0,143.4 M554.7,140.7 L553.0,141.0 L551.5,140.8 M555.0,141.8 L551.7,143.6 L548.2,143.5 M510.2,135.9 L508.4,136.9 L506.6,135.9 M521.6,141.7 L519.3,142.5 L516.9,142.8 M525.3,141.8 L522.5,142.6 L519.6,143.3 M558.4,142.4 L556.2,142.8 L554.2,144.0 M500.7,136.0 L499.0,137.1 L497.5,138.6 M542.7,144.0 L541.4,144.6 L540.1,143.8 M503.4,137.4 L501.1,139.2 L499.0,141.0 M546.3,143.7 L544.8,143.7 L544.3,145.4 M530.6,141.3 L528.2,142.2 L525.5,142.3 M513.9,139.3 L511.0,140.0 L508.4,141.0 M525.5,142.2 L524.1,142.5 L522.9,143.8 M506.9,137.0 L505.5,137.4 L504.1,137.4 M500.1,135.3 L496.8,134.3 L493.5,133.4 M521.3,142.3 L519.4,143.7 L517.0,144.0 M507.3,136.7 L505.4,137.3 L504.2,139.1 M517.7,141.3 L516.0,140.1 L514.2,139.5 M511.3,137.4 L509.6,137.9 L508.0,138.9 M526.4,142.5 L523.2,142.7 L520.2,144.0 M519.2,138.6 L517.4,138.3 L515.7,137.9 M508.5,138.0 L506.7,138.0 L505.0,137.2 M530.6,143.8 L528.1,144.0 L526.2,145.7 M542.9,145.3 L541.1,145.0 L539.5,144.0 M556.5,141.9 L554.8,142.1 L553.4,143.4 M531.3,143.7 L529.5,142.9 L527.7,142.8 M537.2,141.4 L534.2,141.4 L531.3,142.4 M543.3,144.0 L540.6,145.1 L537.8,145.6 M559.3,140.6 L557.6,140.8 L556.1,141.5 M531.2,140.6 L528.5,139.5 L525.7,139.2 M527.4,142.1 L526.3,143.2 L525.0,142.3 M525.0,142.3 L522.7,143.7 L520.5,145.1 M552.9,143.7 L551.4,143.1 L550.5,144.7 M541.6,144.5 L538.2,144.8 L534.8,144.1 M532.4,141.3 L530.8,141.5 L529.0,140.2 M552.7,142.4 L551.3,142.8 L550.7,144.3 M513.1,135.7 L511.7,136.8 L510.2,137.3 M537.2,143.6 L535.4,144.9 L533.6,146.2 M497.1,134.3 L494.4,136.0 L491.9,137.9 M537.2,139.7 L534.6,141.3 L531.8,142.5 M555.9,142.9 L552.6,142.6 L549.3,143.1 M523.5,140.8 L520.2,141.7 L516.9,142.1 M500.6,133.3 L498.1,133.7 L495.6,133.7 M506.2,133.6 L503.9,135.4 L501.7,137.4 M530.7,140.3 L529.1,141.0 L528.2,139.5 M541.7,143.3 L539.1,143.3 L536.5,143.5 M554.3,142.9 L552.6,142.3 L550.8,141.6 M495.9,131.7 L493.6,132.3 L491.3,131.6 M518.3,140.4 L515.9,142.4 L513.1,143.8 M517.8,142.3 L516.2,143.2 L514.0,142.6 M528.2,141.3 L526.0,141.2 L524.0,141.7" fill="none" stroke="#1d1d1d" stroke-width="0.85" stroke-opacity="0.8" stroke-linecap="round"/>
<path d="M612.4,41.8 L609.2,42.1 L606.1,42.3 L603.4,43.3 L599.8,43.4 L595.7,44.9 L591.7,45.7 L589.2,47.4 L586.0,49.3 L582.7,50.8 L580.3,51.8 L576.7,55.0 L574.1,57.9 L570.6,60.3 L567.7,63.2 L565.1,65.4 L562.3,67.8 L560.3,70.1 L557.7,72.4 L556.2,75.2 L553.9,77.5 L551.2,80.3 L548.3,83.4 L545.8,86.0 L543.1,88.8 L539.8,92.3 L537.8,94.5 L534.9,95.9 L532.6,97.8 L529.6,100.5 L528.2,102.2 L525.6,104.6 L524.0,107.4 L521.8,110.0 L519.0,113.1 L516.8,116.0 L514.4,117.8 L511.7,120.1 L510.0,122.6 L507.8,124.6 L505.1,126.7 L501.3,128.5 L498.2,130.4 L492.6,132.9" fill="none" stroke="#1d1d1d" stroke-width="1.25" stroke-opacity="0.95" stroke-linejoin="round" stroke-linecap="round"/>
<path d="M492.7,133.2 L495.6,134.4 L497.9,135.7 L501.7,137.2 L505.1,138.3 L508.4,139.3 L512.0,140.6 L515.4,141.0 L519.4,142.2 L522.9,142.6 L526.6,143.4 L529.8,144.0 L532.7,143.8 L535.7,144.2 L538.8,144.4 L542.0,145.3 L545.6,145.2 L548.9,144.5 L552.6,144.8 L556.0,144.5" fill="none" stroke="#1d1d1d" stroke-width="1.3" stroke-opacity="0.9" stroke-linejoin="round" stroke-linecap="round"/>
<path d="M614.4,42.7 L611.1,42.9 L608.4,44.3 L606.2,46.4 L604.2,49.0 L600.8,49.1 L598.6,51.3 L595.5,51.9 L593.2,53.9 L590.7,55.7 L588.0,56.9 M611.8,55.8 L609.5,57.9 L606.9,59.6 L605.6,62.7 L601.8,63.0 L599.5,65.0 L597.9,67.9 L596.2,70.7 L593.7,72.5 L591.4,74.5 L589.0,76.5 L586.4,78.1 L584.4,80.6 L580.6,80.9 M609.9,71.9 L608.0,74.4 L605.6,76.6 L602.9,78.2 L599.9,79.6 L598.2,82.4 L596.6,85.3 L594.2,87.4 L591.3,88.8 L588.6,90.5 L587.4,93.9 L584.5,95.4 L581.8,97.0 L579.4,99.1 L577.5,101.7 M606.0,88.0 L603.6,89.9 L601.3,91.7 L599.6,94.4 L597.4,96.4 L594.7,97.9 L592.6,100.0 L590.4,102.1 L589.0,105.0 L587.3,107.5 L583.6,108.0 L582.4,111.0 L581.0,113.9 L578.1,115.2 L575.5,116.8 M598.5,104.5 L594.9,105.3 L594.5,109.2 L590.6,109.7 L589.3,112.7 L588.0,115.8 L585.2,117.3 L583.0,119.5 L580.0,120.8 L577.6,122.8 L576.8,126.3 L573.2,127.1 L571.2,129.4 L569.2,131.8 M587.8,117.8 L584.9,119.1 L582.6,121.2 L580.4,123.4 L579.5,127.0 L575.7,127.5 L575.0,131.3 L572.4,133.0 L569.7,134.6 L567.4,136.7 L564.5,138.1 L563.3,141.4 M577.7,129.7 L576.1,132.7 L573.5,134.8 L570.8,136.6 L568.2,138.5 L565.5,140.4 L563.3,142.8 L559.9,143.8 L557.4,145.9 M615.9,63.9 L614.1,66.3 L611.7,68.3 L610.9,71.4 L608.4,73.4 L607.0,76.0 L605.2,78.4 M603.5,97.7 L603.2,101.4 L599.9,103.3 L599.1,106.7 L597.5,109.7 L595.0,112.0 L593.4,115.0" fill="none" stroke="#1d1d1d" stroke-width="0.5" stroke-opacity="0.4" stroke-linecap="round"/>
</g>
<text class="serif" transform="translate(328.7,179.3) scale(1.08,1)" x="0" y="0" font-size="30" textLength="240.3" lengthAdjust="spacing" stroke="#111" stroke-width="0.45">CANYON GLEN</text>
<text class="serif" transform="translate(390.2,206.7) scale(1.1,1)" x="0" y="0" font-size="24" textLength="125.3" lengthAdjust="spacing" stroke="#111" stroke-width="0.4">ESTATES</text>
<line x1="336" y1="197.7" x2="387.5" y2="197.7" stroke="#111" stroke-width="1.5"/>
<line x1="532.5" y1="197.7" x2="584" y2="197.7" stroke="#111" stroke-width="1.5"/>
<polyline points="61.0,330.6 187.0,330.6" fill="none" stroke="#e2fbef" stroke-width="7.0" />
<polyline points="185.0,330.3 360.3,330.3 360.3,407.5" fill="none" stroke="#e2fbef" stroke-width="7.800000000000001" stroke-linejoin="round"/>
<polyline points="186.0,407.3 360.3,407.3" fill="none" stroke="#e2fbef" stroke-width="7.800000000000001" />
<polyline points="252.5,408.0 307.5,485.8 361.3,554.7 404.0,608.0 453.3,665.5 497.7,717.5 566.4,793.7 604.6,833.4 837.0,844.0" fill="none" stroke="#e2fbef" stroke-width="7.800000000000001" stroke-linejoin="miter"/>
<polyline points="836.5,285.8 836.5,846.0" fill="none" stroke="#e2fbef" stroke-width="7.800000000000001" />
<path d="M360.3,407.5 L382.5,441.2 L427,499.5 L472,556.5 L518.5,609 L567.8,666.2 L585.5,685.5 L598.5,697.3 L602,699.4 L707.5,700.8 C715,703.8 722,707 732,710.2 C742,713.3 754.5,711.5 760,702.2 C764,695.5 763.5,684 762.2,673.3 C761,663 758,652 755.5,644 L743,584.7 L731.7,524.7 L725.8,467.2 L720.8,410.3 L718,353.7 L715.8,300.8 L836.5,300.8" fill="none" stroke="#e2fbef" stroke-width="7.800000000000001" stroke-linejoin="round"/>
<path d="M402,333.5 L676.5,333.5 L685,410 L715.7,669.4 L607.3,669.4 L392,407 L392,343.5 Q392,333.5 402,333.5 Z" fill="none" stroke="#fbf0da" stroke-width="6.9" stroke-linejoin="round"/>
<line x1="61" y1="288" x2="835" y2="288" stroke="#0a0a0a" stroke-width="4.4"/>
<line x1="61" y1="301.1" x2="716" y2="301.1" stroke="#0a0a0a" stroke-width="4.4"/>
<text class="road" x="375" y="317.5" font-size="12.6" text-anchor="middle" textLength="115" lengthAdjust="spacingAndGlyphs">Stonegate Avenue</text>
<polyline points="61.0,330.6 187.0,330.6" fill="none" stroke="#4ecb8a" stroke-width="3.4" />
<polyline points="185.0,330.3 360.3,330.3 360.3,407.5" fill="none" stroke="#4ecb8a" stroke-width="4.2" stroke-linejoin="round"/>
<polyline points="186.0,407.3 360.3,407.3" fill="none" stroke="#4ecb8a" stroke-width="4.2" />
<polyline points="252.5,408.0 307.5,485.8 361.3,554.7 404.0,608.0 453.3,665.5 497.7,717.5 566.4,793.7 604.6,833.4 837.0,844.0" fill="none" stroke="#4ecb8a" stroke-width="4.2" stroke-linejoin="miter"/>
<polyline points="836.5,285.8 836.5,846.0" fill="none" stroke="#4ecb8a" stroke-width="4.2" />
<path d="M360.3,407.5 L382.5,441.2 L427,499.5 L472,556.5 L518.5,609 L567.8,666.2 L585.5,685.5 L598.5,697.3 L602,699.4 L707.5,700.8 C715,703.8 722,707 732,710.2 C742,713.3 754.5,711.5 760,702.2 C764,695.5 763.5,684 762.2,673.3 C761,663 758,652 755.5,644 L743,584.7 L731.7,524.7 L725.8,467.2 L720.8,410.3 L718,353.7 L715.8,300.8 L836.5,300.8" fill="none" stroke="#4ecb8a" stroke-width="4.2" stroke-linejoin="round"/>
<path d="M402,333.5 L676.5,333.5 L685,410 L715.7,669.4 L607.3,669.4 L392,407 L392,343.5 Q392,333.5 402,333.5 Z" fill="none" stroke="#f5c766" stroke-width="3.3" stroke-linejoin="round"/>
<line x1="186.2" y1="332.4" x2="186.2" y2="409.3" stroke="#0a0a0a" stroke-width="4.4"/>
<line x1="244.1" y1="332.4" x2="244.1" y2="409.3" stroke="#0a0a0a" stroke-width="4.4"/>
<line x1="301.9" y1="332.4" x2="301.9" y2="409.3" stroke="#0a0a0a" stroke-width="4.4"/>
<line x1="318.1" y1="494.8" x2="382.8" y2="440.9" stroke="#0a0a0a" stroke-width="4.4"/>
<line x1="360.8" y1="555.1" x2="427.3" y2="499.2" stroke="#0a0a0a" stroke-width="4.4"/>
<line x1="403.5" y1="608.4" x2="472.3" y2="556.3" stroke="#0a0a0a" stroke-width="4.4"/>
<line x1="452.8" y1="665.9" x2="518.8" y2="608.7" stroke="#0a0a0a" stroke-width="4.4"/>
<line x1="497.2" y1="717.9" x2="568.1" y2="666.0" stroke="#0a0a0a" stroke-width="4.4"/>
<line x1="602.4" y1="702.2" x2="566.6" y2="795.6" stroke="#0a0a0a" stroke-width="4.4"/>
<line x1="664.5" y1="702.4" x2="664.5" y2="778.0" stroke="#0a0a0a" stroke-width="4.4"/>
<line x1="737.2" y1="712.6" x2="737.2" y2="780.5" stroke="#0a0a0a" stroke-width="4.4"/>
<polyline points="575.0,776.0 664.5,778.3 737.2,780.4 837.6,785.4" fill="none" stroke="#0a0a0a" stroke-width="4.4" />
<line x1="764.5" y1="698.2" x2="836.5" y2="717.8" stroke="#0a0a0a" stroke-width="4.4"/>
<line x1="718.6" y1="353.7" x2="837.6" y2="353.7" stroke="#0a0a0a" stroke-width="4.4"/>
<line x1="720.6" y1="410.8" x2="835.5" y2="414.5" stroke="#0a0a0a" stroke-width="4.4"/>
<line x1="725.6" y1="467.2" x2="836.8" y2="470.8" stroke="#0a0a0a" stroke-width="4.4"/>
<line x1="731.6" y1="524.7" x2="836.5" y2="527.5" stroke="#0a0a0a" stroke-width="4.4"/>
<line x1="743.3" y1="584.7" x2="836.8" y2="584.7" stroke="#0a0a0a" stroke-width="4.4"/>
<line x1="755.8" y1="644.2" x2="836.5" y2="644.2" stroke="#0a0a0a" stroke-width="4.4"/>
<line x1="453.3" y1="335.2" x2="453.3" y2="407.0" stroke="#0a0a0a" stroke-width="4.4"/>
<line x1="508.0" y1="335.2" x2="508.0" y2="407.0" stroke="#0a0a0a" stroke-width="4.4"/>
<line x1="567.5" y1="335.2" x2="567.5" y2="421.0" stroke="#0a0a0a" stroke-width="4.4"/>
<line x1="626.7" y1="335.2" x2="626.7" y2="413.0" stroke="#0a0a0a" stroke-width="4.4"/>
<line x1="393.0" y1="407.0" x2="508.0" y2="407.0" stroke="#0a0a0a" stroke-width="4.4"/>
<polyline points="508.0,407.0 522.0,425.0 561.7,480.0 600.0,540.5 633.0,592.5 670.6,666.4" fill="none" stroke="#0a0a0a" stroke-width="4.4" stroke-linejoin="round"/>
<line x1="522.0" y1="425.0" x2="684.2" y2="409.9" stroke="#0a0a0a" stroke-width="4.4"/>
<line x1="561.7" y1="480.0" x2="691.6" y2="470.9" stroke="#0a0a0a" stroke-width="4.4"/>
<line x1="600.0" y1="540.5" x2="698.3" y2="527.2" stroke="#0a0a0a" stroke-width="4.4"/>
<line x1="633.0" y1="592.5" x2="706.0" y2="584.6" stroke="#0a0a0a" stroke-width="4.4"/>
<line x1="522.0" y1="425.0" x2="452.1" y2="482.0" stroke="#0a0a0a" stroke-width="4.4"/>
<line x1="561.7" y1="480.0" x2="492.0" y2="532.0" stroke="#0a0a0a" stroke-width="4.4"/>
<line x1="600.0" y1="540.5" x2="532.6" y2="582.5" stroke="#0a0a0a" stroke-width="4.4"/>
<line x1="633.0" y1="592.5" x2="576.5" y2="630.2" stroke="#0a0a0a" stroke-width="4.4"/>
<rect x="265" y="487.3" width="70.5" height="24.6" rx="5.5" fill="#2fd083" stroke="#a9ecca" stroke-width="1.1"/>
<text x="300.8" y="505.3" font-size="14.2" font-weight="700" fill="#e6fff1" text-anchor="middle" textLength="58.3" lengthAdjust="spacingAndGlyphs">BLOCK 1</text>
<rect x="515.8" y="431.3" width="73.5" height="25" rx="5.5" fill="#f8c449"/>
<text x="552.7" y="449.8" font-size="14.5" font-weight="700" fill="#fdf1d2" text-anchor="middle" textLength="62" lengthAdjust="spacingAndGlyphs">BLOCK 2</text>
<text transform="translate(509.2,489.3) scale(1,1.27)" x="0" y="0" font-size="24" font-weight="700" fill="#ef5a72" stroke="#ef5a72" stroke-width="0.7" text-anchor="middle">R</text>
<text transform="translate(509,676.7) scale(1,1.27)" x="0" y="0" font-size="24" font-weight="700" fill="#ef5a72" stroke="#ef5a72" stroke-width="0.7" text-anchor="middle">R</text>
<text transform="translate(553.4,729.6) scale(1,1.27)" x="0" y="0" font-size="24" font-weight="700" fill="#ef5a72" stroke="#ef5a72" stroke-width="0.7" text-anchor="middle">R</text>
<text class="road" transform="translate(419.5,469) rotate(52)" font-size="12.6" textLength="90" lengthAdjust="spacingAndGlyphs">Sawtooth Way</text>
<text class="road" transform="translate(700.2,413.5) rotate(84.3)" font-size="12.6" textLength="71" lengthAdjust="spacingAndGlyphs">Cole Street</text>
<g transform="translate(211.6,368.8) rotate(-90) scale(0.98)">
<text x="0" y="-8.7" class="n" font-size="11.4" textLength="30.1" lengthAdjust="spacingAndGlyphs">LOT 1</text>
<text x="0" y="4.4" class="p" font-size="12.4" textLength="37.8" lengthAdjust="spacingAndGlyphs">$ 125 k</text>
<text x="0" y="17.6" class="s" font-size="11.7" textLength="56.6" lengthAdjust="spacingAndGlyphs">8,400 sqft</text>
</g>
<g transform="translate(273.0,367.0) rotate(-90) scale(0.98)">
<text x="0" y="-8.7" class="n" font-size="11.4" textLength="34.0" lengthAdjust="spacingAndGlyphs">LOT 2</text>
<text x="0" y="4.4" class="p" font-size="12.4" textLength="37.8" lengthAdjust="spacingAndGlyphs">$ 125 k</text>
<text x="0" y="17.6" class="s" font-size="11.7" textLength="56.6" lengthAdjust="spacingAndGlyphs">8,400 sqft</text>
</g>
<g transform="translate(331.5,373.5) rotate(-90) scale(0.98)">
<text x="0" y="-8.7" class="n" font-size="11.4" textLength="34.0" lengthAdjust="spacingAndGlyphs">LOT 3</text>
<text x="0" y="4.4" class="p" font-size="12.4" textLength="37.8" lengthAdjust="spacingAndGlyphs">$ 125 k</text>
<text x="0" y="17.6" class="s" font-size="11.7" textLength="56.6" lengthAdjust="spacingAndGlyphs">8,334 sqft</text>
</g>
<g transform="translate(325.6,440.0) rotate(-38) scale(1.12)">
<text x="0" y="-8.7" class="n" font-size="11.4" textLength="34.0" lengthAdjust="spacingAndGlyphs">LOT 4</text>
<text x="0" y="4.4" class="p" font-size="12.4" textLength="37.8" lengthAdjust="spacingAndGlyphs">$ 150 k</text>
<text x="0" y="17.6" class="s" font-size="11.7" textLength="57.0" lengthAdjust="spacingAndGlyphs">13,212 sqft</text>
</g>
<g transform="translate(373.9,496.5) rotate(-38) scale(1.1)">
<text x="0" y="-8.7" class="n" font-size="11.4" textLength="34.0" lengthAdjust="spacingAndGlyphs">LOT 5</text>
<text x="0" y="4.4" class="p" font-size="12.4" textLength="37.8" lengthAdjust="spacingAndGlyphs">$ 150 k</text>
<text x="0" y="17.6" class="s" font-size="11.7" textLength="57.0" lengthAdjust="spacingAndGlyphs">11,000 sqft</text>
</g>
<g transform="translate(414.0,551.5) rotate(-38) scale(1.1)">
<text x="0" y="-8.7" class="n" font-size="11.4" textLength="34.0" lengthAdjust="spacingAndGlyphs">LOT 6</text>
<text x="0" y="4.4" class="p" font-size="12.4" textLength="37.8" lengthAdjust="spacingAndGlyphs">$ 150 k</text>
<text x="0" y="17.6" class="s" font-size="11.7" textLength="57.0" lengthAdjust="spacingAndGlyphs">11,000 sqft</text>
</g>
<g transform="translate(460.5,605.9) rotate(-38) scale(1.08)">
<text x="0" y="-8.7" class="n" font-size="11.4" textLength="34.0" lengthAdjust="spacingAndGlyphs">LOT 7</text>
<text x="0" y="4.4" class="p" font-size="12.4" textLength="37.8" lengthAdjust="spacingAndGlyphs">$ 150 k</text>
<text x="0" y="17.6" class="s" font-size="11.7" textLength="57.0" lengthAdjust="spacingAndGlyphs">11,000 sqft</text>
</g>
<g transform="translate(424.2,373.5) rotate(-90) scale(0.97)">
<text x="0" y="-8.7" class="n" font-size="11.4" textLength="30.1" lengthAdjust="spacingAndGlyphs">LOT 1</text>
<text x="0" y="4.4" class="p" font-size="12.4" textLength="37.8" lengthAdjust="spacingAndGlyphs">$ 125 k</text>
<text x="0" y="17.6" class="s" font-size="11.7" textLength="56.6" lengthAdjust="spacingAndGlyphs">8,542 sqft</text>
</g>
<g transform="translate(480.7,373.5) rotate(-90) scale(0.98)">
<text x="0" y="-8.7" class="n" font-size="11.4" textLength="34.0" lengthAdjust="spacingAndGlyphs">LOT 2</text>
<text x="0" y="4.4" class="p" font-size="12.4" textLength="37.8" lengthAdjust="spacingAndGlyphs">$ 130 k</text>
<text x="0" y="17.6" class="s" font-size="11.7" textLength="56.6" lengthAdjust="spacingAndGlyphs">8,400 sqft</text>
</g>
<g transform="translate(539.4,377.3) rotate(-90) scale(1.0)">
<text x="0" y="-8.7" class="n" font-size="11.4" textLength="34.0" lengthAdjust="spacingAndGlyphs">LOT 3</text>
<text x="0" y="4.4" class="p" font-size="12.4" textLength="37.8" lengthAdjust="spacingAndGlyphs">$ 140 k</text>
<text x="0" y="17.6" class="s" font-size="11.7" textLength="60.0" lengthAdjust="spacingAndGlyphs">10,028 sqft</text>
</g>
<g transform="translate(598.7,374.5) rotate(-90) scale(1.0)">
<text x="0" y="-8.7" class="n" font-size="11.4" textLength="34.0" lengthAdjust="spacingAndGlyphs">LOT 4</text>
<text x="0" y="4.4" class="p" font-size="12.4" textLength="37.8" lengthAdjust="spacingAndGlyphs">$ 135 k</text>
<text x="0" y="17.6" class="s" font-size="11.7" textLength="56.6" lengthAdjust="spacingAndGlyphs">9,675 sqft</text>
</g>
<g transform="translate(652.4,375.5) rotate(-90) scale(1.03)">
<text x="0" y="-8.7" class="n" font-size="11.4" textLength="34.0" lengthAdjust="spacingAndGlyphs">LOT 5</text>
<text x="0" y="4.4" class="p" font-size="12.4" textLength="37.8" lengthAdjust="spacingAndGlyphs">$ 125 k</text>
<text x="0" y="17.6" class="s" font-size="11.7" textLength="56.6" lengthAdjust="spacingAndGlyphs">9,285 sqft</text>
</g>
<g transform="translate(460.0,433.2) rotate(0) scale(0.88)">
<text x="0" y="-8.7" class="n" font-size="11.4" textLength="36.6" lengthAdjust="spacingAndGlyphs">LOT 14</text>
<text x="0" y="4.4" class="p" font-size="12.4" textLength="37.8" lengthAdjust="spacingAndGlyphs">$ 145 k</text>
<text x="0" y="17.6" class="s" font-size="11.7" textLength="60.0" lengthAdjust="spacingAndGlyphs">10,464 sqft</text>
</g>
<g transform="translate(619.0,444.8) rotate(0) scale(1.02)">
<text x="0" y="-8.7" class="n" font-size="11.4" textLength="34.0" lengthAdjust="spacingAndGlyphs">LOT 6</text>
<text x="0" y="4.4" class="p" font-size="12.4" textLength="37.8" lengthAdjust="spacingAndGlyphs">$ 175 k</text>
<text x="0" y="17.6" class="s" font-size="11.7" textLength="57.0" lengthAdjust="spacingAndGlyphs">16,581 sqft</text>
</g>
<g transform="translate(636.8,506.2) rotate(0) scale(1.0)">
<text x="0" y="-8.7" class="n" font-size="11.4" textLength="34.0" lengthAdjust="spacingAndGlyphs">LOT 7</text>
<text x="0" y="4.4" class="p" font-size="12.4" textLength="37.8" lengthAdjust="spacingAndGlyphs">$ 165 k</text>
<text x="0" y="17.6" class="s" font-size="11.7" textLength="60.0" lengthAdjust="spacingAndGlyphs">13,630 sqft</text>
</g>
<g transform="translate(658.7,559.6) rotate(0) scale(1.0)">
<text x="0" y="-8.7" class="n" font-size="11.4" textLength="34.0" lengthAdjust="spacingAndGlyphs">LOT 8</text>
<text x="0" y="4.4" class="p" font-size="12.4" textLength="37.8" lengthAdjust="spacingAndGlyphs">$ 155 k</text>
<text x="0" y="17.6" class="s" font-size="11.7" textLength="56.6" lengthAdjust="spacingAndGlyphs">9,543 sqft</text>
</g>
<g transform="translate(682.1,625.0) rotate(58) scale(0.98)">
<text x="0" y="-8.7" class="n" font-size="11.4" textLength="34.0" lengthAdjust="spacingAndGlyphs">LOT 9</text>
<text x="0" y="4.4" class="p" font-size="12.4" textLength="37.8" lengthAdjust="spacingAndGlyphs">$ 145 k</text>
<text x="0" y="17.6" class="s" font-size="11.7" textLength="56.6" lengthAdjust="spacingAndGlyphs">9,955 sqft</text>
</g>
<g transform="translate(624.0,638.8) rotate(0) scale(0.92)">
<text x="0" y="-8.7" class="n" font-size="11.4" textLength="36.6" lengthAdjust="spacingAndGlyphs">LOT 10</text>
<text x="0" y="4.4" class="p" font-size="12.4" textLength="37.8" lengthAdjust="spacingAndGlyphs">$ 135 k</text>
<text x="0" y="17.6" class="s" font-size="11.7" textLength="53.6" lengthAdjust="spacingAndGlyphs">8,618 sqft</text>
</g>
<g transform="translate(586.1,585.6) rotate(-30) scale(0.96)">
<text x="0" y="-8.7" class="n" font-size="11.4" textLength="32.7" lengthAdjust="spacingAndGlyphs">LOT 11</text>
<text x="0" y="4.4" class="p" font-size="12.4" textLength="37.8" lengthAdjust="spacingAndGlyphs">$ 150 k</text>
<text x="0" y="17.6" class="s" font-size="11.7" textLength="60.0" lengthAdjust="spacingAndGlyphs">10,044 sqft</text>
</g>
<g transform="translate(548.0,526.9) rotate(0) scale(0.93)">
<text x="0" y="-8.7" class="n" font-size="11.4" textLength="36.6" lengthAdjust="spacingAndGlyphs">LOT 12</text>
<text x="0" y="4.4" class="p" font-size="12.4" textLength="37.8" lengthAdjust="spacingAndGlyphs">$ 150 k</text>
<text x="0" y="17.6" class="s" font-size="11.7" textLength="60.0" lengthAdjust="spacingAndGlyphs">10,407 sqft</text>
</g>
<g transform="translate(775.8,328.1) rotate(0) scale(1.0)">
<text x="0" y="-8.7" class="n" font-size="11.4" textLength="40.5" lengthAdjust="spacingAndGlyphs">LOT 20</text>
<text x="0" y="4.4" class="p" font-size="12.4" textLength="37.8" lengthAdjust="spacingAndGlyphs">$ 165 k</text>
<text x="0" y="17.6" class="s" font-size="11.7" textLength="60.0" lengthAdjust="spacingAndGlyphs">13,333 sqft</text>
</g>
<g transform="translate(779.7,380.4) rotate(0) scale(1.05)">
<text x="0" y="-8.7" class="n" font-size="11.4" textLength="36.6" lengthAdjust="spacingAndGlyphs">LOT 19</text>
<text x="0" y="4.4" class="p" font-size="12.4" textLength="37.8" lengthAdjust="spacingAndGlyphs">$ 165 k</text>
<text x="0" y="17.6" class="s" font-size="11.7" textLength="60.0" lengthAdjust="spacingAndGlyphs">13,036 sqft</text>
</g>
<g transform="translate(780.8,442.0) rotate(0) scale(0.98)">
<text x="0" y="-8.7" class="n" font-size="11.4" textLength="36.6" lengthAdjust="spacingAndGlyphs">LOT 18</text>
<text x="0" y="4.4" class="p" font-size="12.4" textLength="37.8" lengthAdjust="spacingAndGlyphs">$ 165 k</text>
<text x="0" y="17.6" class="s" font-size="11.7" textLength="57.0" lengthAdjust="spacingAndGlyphs">12,710 sqft</text>
</g>
<g transform="translate(778.3,493.7) rotate(0) scale(1.03)">
<text x="0" y="-8.7" class="n" font-size="11.4" textLength="36.6" lengthAdjust="spacingAndGlyphs">LOT 17</text>
<text x="0" y="4.4" class="p" font-size="12.4" textLength="37.8" lengthAdjust="spacingAndGlyphs">$ 160 k</text>
<text x="0" y="17.6" class="s" font-size="11.7" textLength="57.0" lengthAdjust="spacingAndGlyphs">11,847 sqft</text>
</g>
<g transform="translate(785.0,553.9) rotate(0) scale(1.01)">
<text x="0" y="-8.7" class="n" font-size="11.4" textLength="36.6" lengthAdjust="spacingAndGlyphs">LOT 16</text>
<text x="0" y="4.4" class="p" font-size="12.4" textLength="37.8" lengthAdjust="spacingAndGlyphs">$ 155 k</text>
<text x="0" y="17.6" class="s" font-size="11.7" textLength="60.0" lengthAdjust="spacingAndGlyphs">10,775 sqft</text>
</g>
<g transform="translate(793.3,613.1) rotate(0) scale(1.0)">
<text x="0" y="-8.7" class="n" font-size="11.4" textLength="36.6" lengthAdjust="spacingAndGlyphs">LOT 15</text>
<text x="0" y="4.4" class="p" font-size="12.4" textLength="37.8" lengthAdjust="spacingAndGlyphs">$ 150 k</text>
<text x="0" y="17.6" class="s" font-size="11.7" textLength="56.6" lengthAdjust="spacingAndGlyphs">9,749 sqft</text>
</g>
<g transform="translate(800.5,673.6) rotate(0) scale(1.0)">
<text x="0" y="-8.7" class="n" font-size="11.4" textLength="36.6" lengthAdjust="spacingAndGlyphs">LOT 14</text>
<text x="0" y="4.4" class="p" font-size="12.4" textLength="37.8" lengthAdjust="spacingAndGlyphs">$ 145 k</text>
<text x="0" y="17.6" class="s" font-size="11.7" textLength="53.6" lengthAdjust="spacingAndGlyphs">8,941 sqft</text>
</g>
<g transform="translate(789.0,740.2) rotate(0) scale(1.03)">
<text x="0" y="-8.7" class="n" font-size="11.4" textLength="36.6" lengthAdjust="spacingAndGlyphs">LOT 13</text>
<text x="0" y="4.4" class="p" font-size="12.4" textLength="37.8" lengthAdjust="spacingAndGlyphs">$ 170 k</text>
<text x="0" y="17.6" class="s" font-size="11.7" textLength="57.0" lengthAdjust="spacingAndGlyphs">15,441 sqft</text>
</g>
<g transform="translate(626.0,736.4) rotate(0) scale(1.07)">
<text x="0" y="-8.7" class="n" font-size="11.4" textLength="36.6" lengthAdjust="spacingAndGlyphs">LOT 10</text>
<text x="0" y="4.4" class="p" font-size="12.4" textLength="37.8" lengthAdjust="spacingAndGlyphs">$ 145 k</text>
<text x="0" y="17.6" class="s" font-size="11.7" textLength="54.0" lengthAdjust="spacingAndGlyphs">10,611 sqft</text>
</g>
<g transform="translate(699.8,736.7) rotate(0) scale(1.04)">
<text x="0" y="-8.7" class="n" font-size="11.4" textLength="32.7" lengthAdjust="spacingAndGlyphs">LOT 11</text>
<text x="0" y="4.4" class="p" font-size="12.4" textLength="37.8" lengthAdjust="spacingAndGlyphs">$ 145 k</text>
<text x="0" y="17.6" class="s" font-size="11.7" textLength="60.0" lengthAdjust="spacingAndGlyphs">10,475 sqft</text>
</g>
<g transform="translate(654.7,804.2) rotate(0) scale(1.02)">
<text x="0" y="-2.2" class="n" font-size="11.4" textLength="36.6" lengthAdjust="spacingAndGlyphs">LOT 12</text>
<text x="0" y="11.1" class="s" font-size="11.7" textLength="63.0" lengthAdjust="spacingAndGlyphs">30,679 sqft</text>
</g>
<text x="712" y="813" font-size="7.6" font-weight="700" fill="#ef5a72" textLength="109" lengthAdjust="spacingAndGlyphs" opacity="0.85">Easement /  Pumpstation</text>
<!--COMPASS-->
<g stroke="#111" stroke-width="0.8" stroke-linejoin="miter">
<path d="M155.4,469.3 L150.4,492.5 L155.4,492.5 Z" fill="#f3f3f3"/>
<path d="M155.4,469.3 L160.4,492.5 L155.4,492.5 Z" fill="#111"/>
<path d="M155.4,549.3 L150.4,526.1 L155.4,526.1 Z" fill="#111"/>
<path d="M155.4,549.3 L160.4,526.1 L155.4,526.1 Z" fill="#f3f3f3"/>
<path d="M116.4,509.3 L138.6,504.3 L138.6,509.3 Z" fill="#111"/>
<path d="M116.4,509.3 L138.6,514.3 L138.6,509.3 Z" fill="#f3f3f3"/>
<path d="M194.9,509.3 L172.20000000000002,504.3 L172.20000000000002,509.3 Z" fill="#f3f3f3"/>
<path d="M194.9,509.3 L172.20000000000002,514.3 L172.20000000000002,509.3 Z" fill="#111"/>
</g>
<circle cx="155.4" cy="509.3" r="17.8" fill="#f3f3f3" stroke="#111" stroke-width="2.2"/>
<text class="serif" x="155.4" y="458.3" font-size="20" text-anchor="middle">N</text>
<text class="serif" x="155.4" y="575" font-size="20" text-anchor="middle">S</text>
<text class="serif" x="97" y="516" font-size="20" text-anchor="middle">W</text>
<text class="serif" x="212" y="516" font-size="20" text-anchor="middle">E</text>
<text x="743" y="917.3" font-size="18.3" fill="#ffffff" opacity="0.5" textLength="152" lengthAdjust="spacingAndGlyphs">INTERMOUNTAIN</text>
<text x="784" y="943" font-size="29" font-weight="700" font-style="italic" fill="#ffffff" opacity="0.5" textLength="63" lengthAdjust="spacingAndGlyphs">MLS</text>
</g></svg></body></html>
